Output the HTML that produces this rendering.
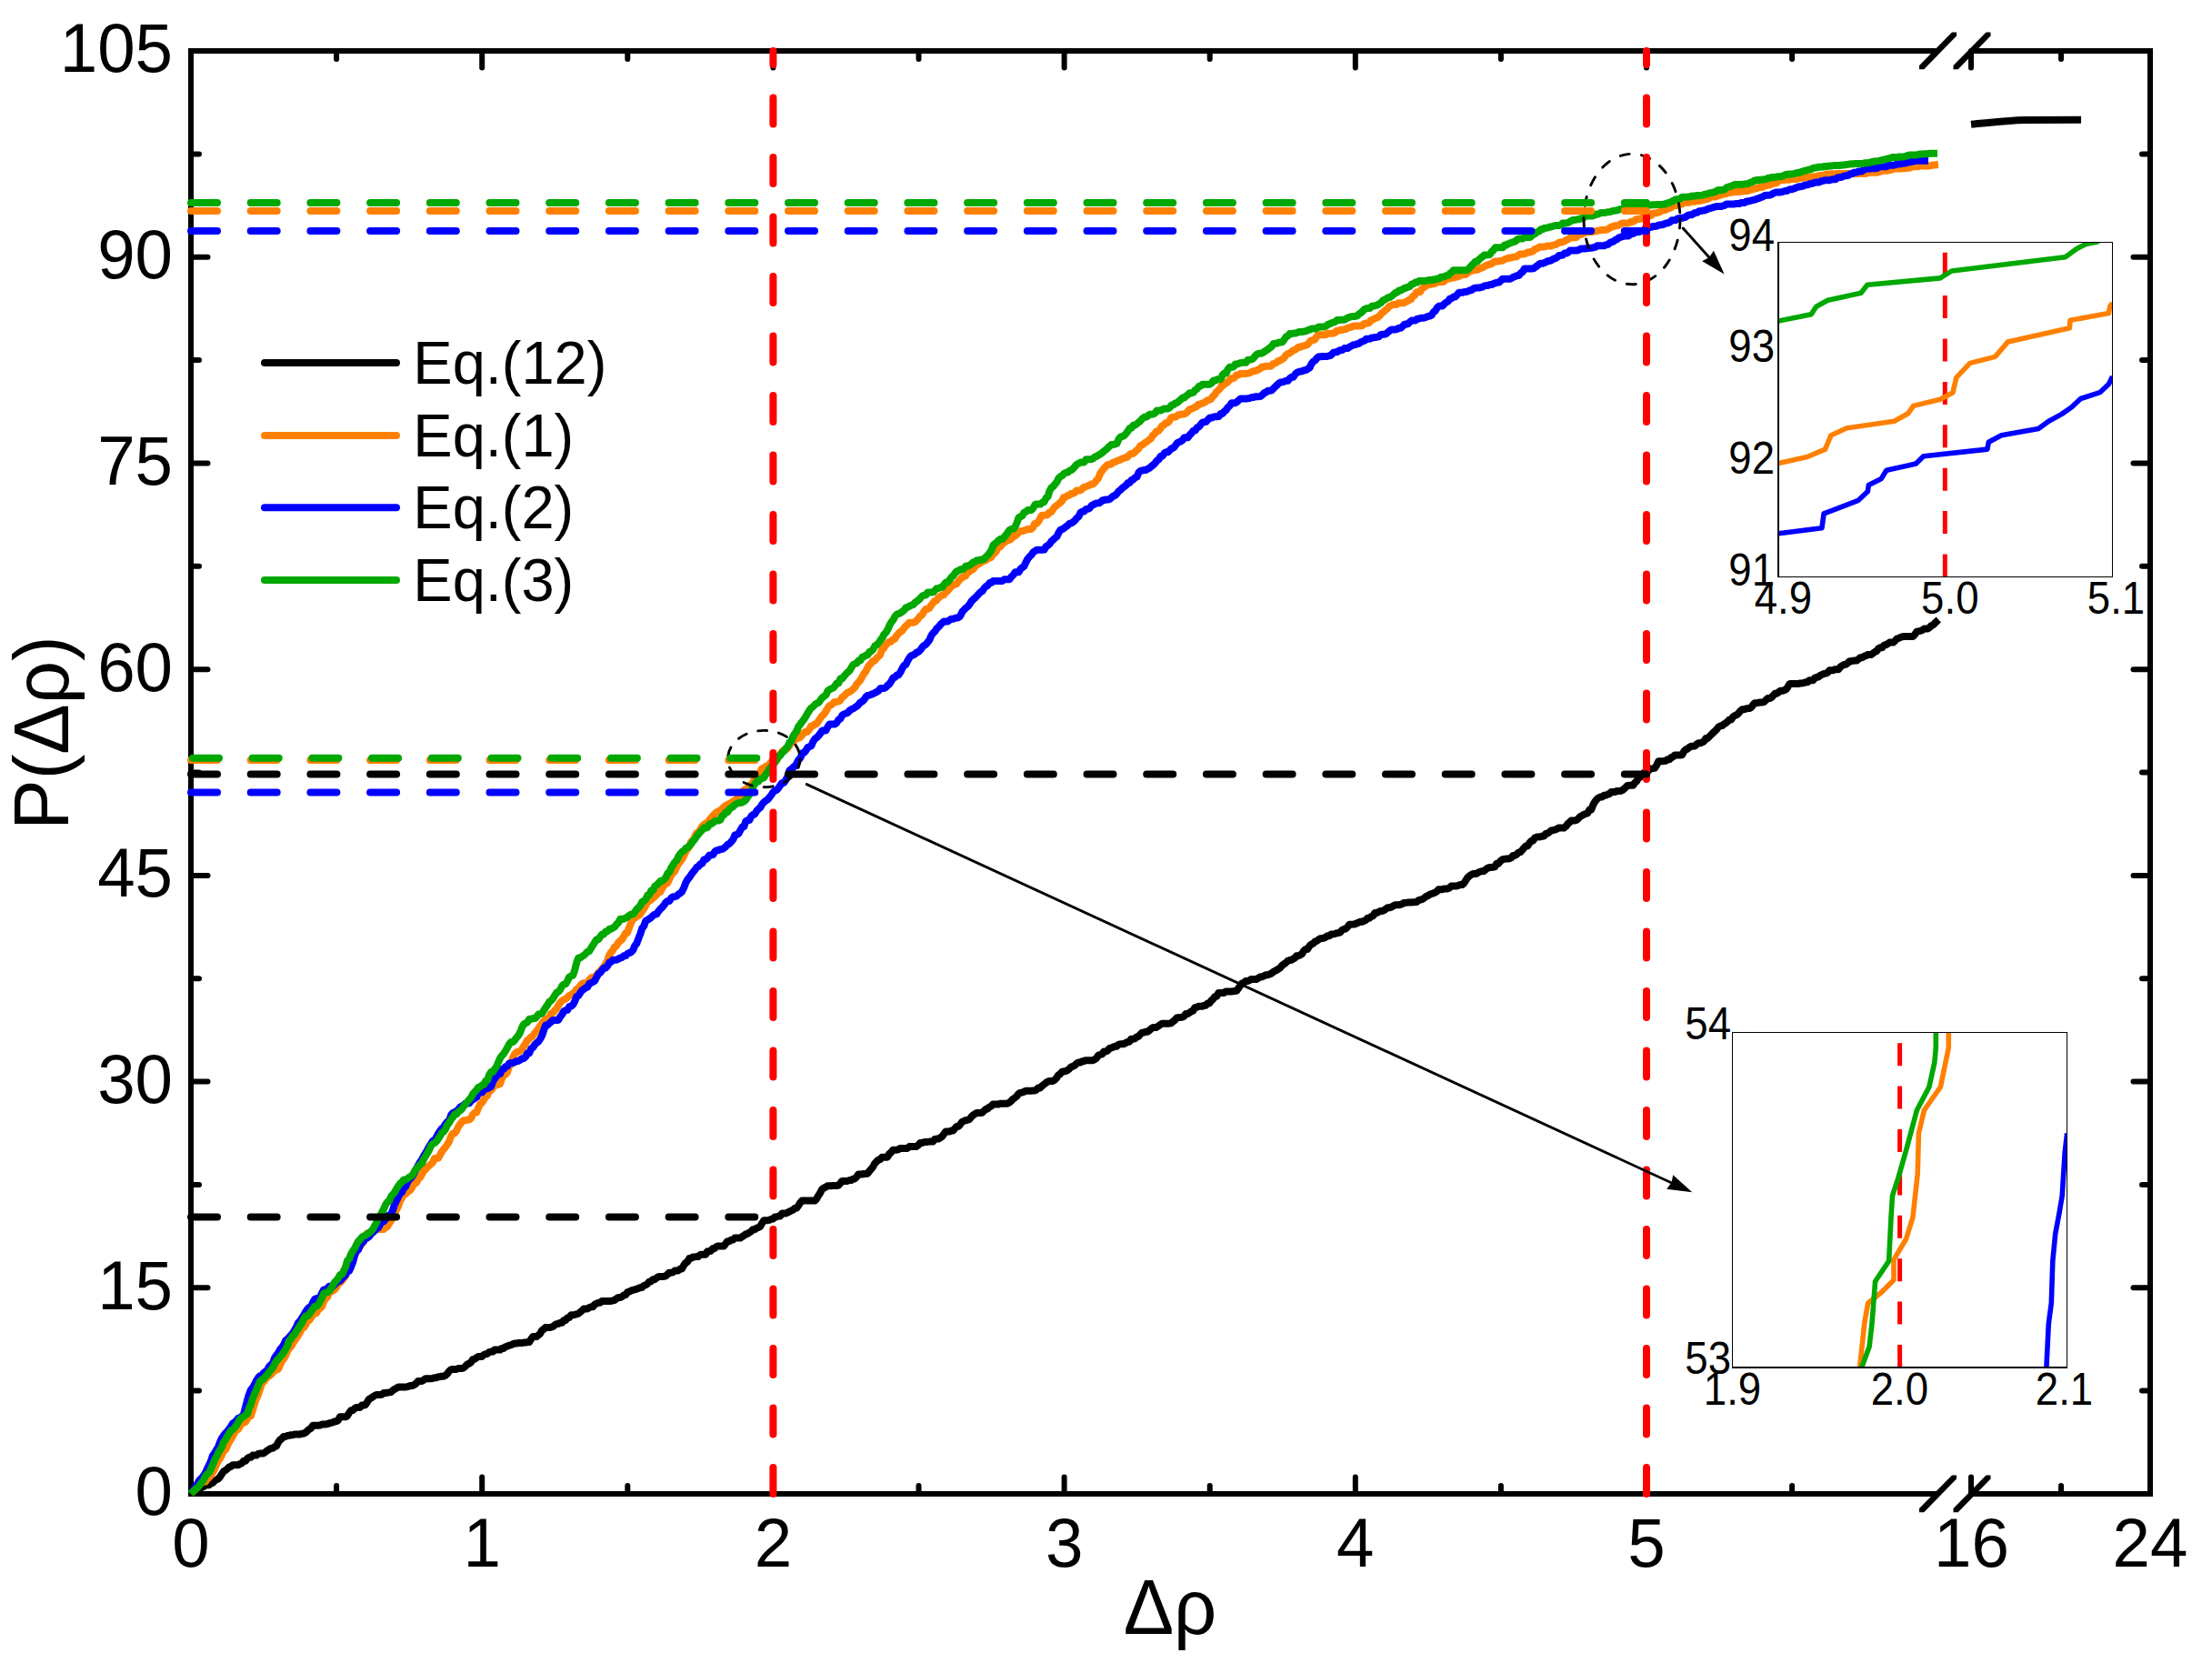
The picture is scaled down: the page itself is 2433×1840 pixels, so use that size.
<!DOCTYPE html>
<html lang="en"><head><meta charset="utf-8"><title>P(Δρ)</title>
<style>html,body{margin:0;padding:0;background:#fff}svg{display:block}</style></head>
<body>
<svg width="2433" height="1840" viewBox="0 0 2433 1840" font-family="'Liberation Sans', Arial, sans-serif">
<rect width="2433" height="1840" fill="#fff"/>
<g fill="none" stroke="#000000" stroke-width="6">
<path stroke-linecap="square" d="M210.0,56.0 L210.0,1643.0"/>
<path stroke-linecap="square" d="M2365.0,56.0 L2365.0,1643.0"/>
<path d="M210.0,56.0 L2132,56.0 M2170,56.0 L2365.0,56.0"/>
<path d="M210.0,1643.0 L2132,1643.0 M2170,1643.0 L2365.0,1643.0"/>
<polygon fill="#000" stroke="none" points="2111.0,72.0 2147.0,35.6 2152.0,35.6 2152.0,39.4 2116.2,76.3 2111.0,76.3"/>
<polygon fill="#000" stroke="none" points="2148.5,72.0 2184.5,35.6 2189.5,35.6 2189.5,39.4 2153.7,76.3 2148.5,76.3"/>
<polygon fill="#000" stroke="none" points="2111.0,1659.0 2147.0,1622.6 2152.0,1622.6 2152.0,1626.4 2116.2,1663.3 2111.0,1663.3"/>
<polygon fill="#000" stroke="none" points="2148.5,1659.0 2184.5,1622.6 2189.5,1622.6 2189.5,1626.4 2153.7,1663.3 2148.5,1663.3"/>
<g stroke-linecap="round">
<path d="M210.0,1643.0 L210.0,1624.5"/>
<path d="M210.0,56.0 L210.0,74.5"/>
<path d="M370.1,1643.0 L370.1,1634.0"/>
<path d="M370.1,56.0 L370.1,65.0"/>
<path d="M530.2,1643.0 L530.2,1624.5"/>
<path d="M530.2,56.0 L530.2,74.5"/>
<path d="M690.3,1643.0 L690.3,1634.0"/>
<path d="M690.3,56.0 L690.3,65.0"/>
<path d="M850.4,1643.0 L850.4,1624.5"/>
<path d="M850.4,56.0 L850.4,74.5"/>
<path d="M1010.5,1643.0 L1010.5,1634.0"/>
<path d="M1010.5,56.0 L1010.5,65.0"/>
<path d="M1170.6,1643.0 L1170.6,1624.5"/>
<path d="M1170.6,56.0 L1170.6,74.5"/>
<path d="M1330.7,1643.0 L1330.7,1634.0"/>
<path d="M1330.7,56.0 L1330.7,65.0"/>
<path d="M1490.8,1643.0 L1490.8,1624.5"/>
<path d="M1490.8,56.0 L1490.8,74.5"/>
<path d="M1650.9,1643.0 L1650.9,1634.0"/>
<path d="M1650.9,56.0 L1650.9,65.0"/>
<path d="M1811.0,1643.0 L1811.0,1624.5"/>
<path d="M1811.0,56.0 L1811.0,74.5"/>
<path d="M1971.1,1643.0 L1971.1,1634.0"/>
<path d="M1971.1,56.0 L1971.1,65.0"/>
<path d="M2168.0,1643.0 L2168.0,1624.5"/>
<path d="M2168.0,56.0 L2168.0,74.5"/>
<path d="M2267.0,1643.0 L2267.0,1634.0"/>
<path d="M2267.0,56.0 L2267.0,65.0"/>
<path d="M2365.0,1643.0 L2365.0,1624.5"/>
<path d="M2365.0,56.0 L2365.0,74.5"/>
<path d="M210.0,1643.0 L228.5,1643.0"/>
<path d="M2365.0,1643.0 L2346.5,1643.0"/>
<path d="M210.0,1529.6 L219.0,1529.6"/>
<path d="M2365.0,1529.6 L2356.0,1529.6"/>
<path d="M210.0,1416.3 L228.5,1416.3"/>
<path d="M2365.0,1416.3 L2346.5,1416.3"/>
<path d="M210.0,1302.9 L219.0,1302.9"/>
<path d="M2365.0,1302.9 L2356.0,1302.9"/>
<path d="M210.0,1189.6 L228.5,1189.6"/>
<path d="M2365.0,1189.6 L2346.5,1189.6"/>
<path d="M210.0,1076.2 L219.0,1076.2"/>
<path d="M2365.0,1076.2 L2356.0,1076.2"/>
<path d="M210.0,962.9 L228.5,962.9"/>
<path d="M2365.0,962.9 L2346.5,962.9"/>
<path d="M210.0,849.5 L219.0,849.5"/>
<path d="M2365.0,849.5 L2356.0,849.5"/>
<path d="M210.0,736.2 L228.5,736.2"/>
<path d="M2365.0,736.2 L2346.5,736.2"/>
<path d="M210.0,622.8 L219.0,622.8"/>
<path d="M2365.0,622.8 L2356.0,622.8"/>
<path d="M210.0,509.5 L228.5,509.5"/>
<path d="M2365.0,509.5 L2346.5,509.5"/>
<path d="M210.0,396.1 L219.0,396.1"/>
<path d="M2365.0,396.1 L2356.0,396.1"/>
<path d="M210.0,282.7 L228.5,282.7"/>
<path d="M2365.0,282.7 L2346.5,282.7"/>
<path d="M210.0,169.4 L219.0,169.4"/>
<path d="M2365.0,169.4 L2356.0,169.4"/>
<path d="M210.0,56.0 L228.5,56.0"/>
<path d="M2365.0,56.0 L2346.5,56.0"/>
</g>
</g>
<g fill="none" stroke-width="8" stroke-linejoin="round" stroke-linecap="butt">
<polyline stroke="#000000" points="210.0,1643.0 212.0,1641.9 214.0,1640.2 216.0,1639.4 218.0,1637.8 220.0,1636.1 222.0,1636.1 224.0,1635.0 226.0,1633.6 228.0,1633.3 230.0,1633.2 232.0,1631.5 234.0,1630.9 236.0,1628.5 238.0,1627.5 240.0,1626.5 242.0,1624.3 244.0,1621.1 246.0,1618.2 248.0,1617.1 250.0,1615.5 252.0,1613.4 254.0,1613.0 256.0,1611.2 258.0,1611.2 260.0,1611.2 262.0,1611.2 264.0,1610.0 266.0,1609.2 268.0,1606.7 270.0,1606.7 272.0,1604.1 274.0,1602.7 276.0,1602.7 278.0,1600.6 280.0,1600.6 282.0,1600.6 284.0,1599.0 286.0,1598.6 288.0,1598.4 290.0,1598.4 292.0,1596.9 294.0,1595.3 296.0,1594.2 298.0,1592.9 300.0,1592.8 302.0,1591.2 304.0,1590.5 306.0,1586.3 308.0,1583.6 310.0,1582.2 312.0,1580.0 314.0,1580.0 316.0,1579.0 318.0,1578.8 320.0,1578.2 322.0,1578.2 324.0,1577.5 326.0,1577.5 328.0,1577.5 330.0,1577.4 332.0,1576.7 334.0,1576.7 336.0,1575.7 338.0,1573.8 340.0,1572.0 342.0,1571.0 344.0,1567.7 346.0,1567.7 348.0,1567.7 350.0,1567.7 352.0,1567.5 354.0,1566.6 356.0,1566.6 358.0,1566.6 360.0,1566.1 362.0,1565.4 364.0,1564.8 366.0,1564.4 368.0,1563.3 370.0,1563.3 372.0,1561.9 374.0,1558.3 376.0,1558.3 378.0,1558.3 380.0,1558.3 382.0,1557.3 384.0,1554.0 386.0,1551.2 388.0,1551.0 390.0,1549.2 392.0,1547.9 394.0,1547.9 396.0,1547.9 398.0,1545.5 400.0,1545.5 402.0,1545.0 404.0,1541.8 406.0,1538.6 408.0,1537.8 410.0,1536.3 412.0,1535.0 414.0,1533.9 416.0,1533.9 418.0,1533.9 420.0,1533.8 422.0,1532.1 424.0,1532.1 426.0,1531.7 428.0,1531.4 430.0,1531.1 432.0,1529.3 434.0,1527.9 436.0,1526.8 438.0,1525.5 440.0,1525.5 442.0,1525.5 444.0,1525.5 446.0,1525.5 448.0,1525.1 450.0,1524.5 452.0,1524.0 454.0,1523.9 456.0,1522.7 458.0,1521.2 460.0,1518.9 462.0,1518.9 464.0,1518.9 466.0,1517.8 468.0,1516.3 470.0,1516.3 472.0,1516.3 474.0,1516.3 476.0,1515.9 478.0,1515.3 480.0,1515.3 482.0,1514.2 484.0,1514.2 486.0,1513.7 488.0,1513.7 490.0,1512.7 492.0,1510.8 494.0,1508.0 496.0,1506.4 498.0,1506.0 500.0,1506.0 502.0,1506.0 504.0,1505.0 506.0,1505.0 508.0,1505.0 510.0,1504.4 512.0,1502.6 514.0,1500.5 516.0,1499.7 518.0,1498.2 520.0,1495.2 522.0,1494.8 524.0,1493.4 526.0,1492.0 528.0,1492.0 530.0,1492.0 532.0,1490.1 534.0,1489.3 536.0,1488.8 538.0,1487.2 540.0,1486.6 542.0,1486.6 544.0,1484.6 546.0,1484.6 548.0,1484.6 550.0,1484.6 552.0,1482.9 554.0,1482.9 556.1,1481.2 558.1,1480.5 560.1,1479.7 562.1,1479.3 564.1,1478.2 566.1,1477.6 568.1,1477.6 570.1,1477.0 572.1,1477.0 574.1,1477.0 576.1,1476.6 578.1,1476.6 580.1,1476.1 582.1,1476.1 584.1,1472.8 586.1,1470.1 588.1,1470.1 590.1,1470.1 592.1,1468.5 594.1,1466.8 596.1,1463.3 598.1,1461.9 600.1,1460.0 602.1,1459.9 604.1,1459.9 606.1,1459.7 608.1,1459.2 610.1,1457.3 612.1,1456.2 614.1,1455.8 616.1,1454.8 618.1,1454.8 620.1,1452.1 622.1,1452.1 624.1,1449.4 626.1,1449.1 628.1,1446.3 630.1,1446.3 632.1,1446.0 634.1,1445.3 636.1,1444.9 638.1,1443.1 640.1,1441.5 642.1,1439.5 644.1,1439.5 646.1,1439.5 648.1,1438.2 650.1,1437.3 652.1,1437.3 654.1,1434.6 656.1,1433.8 658.1,1432.7 660.1,1432.7 662.1,1431.0 664.1,1430.9 666.1,1430.9 668.1,1430.9 670.1,1430.9 672.1,1430.9 674.1,1430.4 676.1,1429.8 678.1,1428.2 680.1,1427.1 682.1,1427.1 684.1,1426.2 686.1,1424.5 688.1,1424.1 690.1,1421.3 692.1,1420.5 694.1,1419.6 696.1,1418.8 698.1,1418.4 700.1,1417.7 702.1,1417.0 704.1,1416.1 706.1,1416.1 708.1,1414.0 710.1,1413.3 712.1,1412.0 714.1,1409.7 716.1,1409.3 718.1,1407.2 720.1,1407.2 722.1,1405.5 724.1,1404.3 726.1,1404.1 728.1,1404.1 730.1,1403.9 732.1,1403.4 734.1,1401.7 736.1,1399.7 738.1,1399.7 740.1,1399.4 742.1,1397.6 744.1,1397.6 746.1,1397.4 748.1,1395.6 750.1,1395.4 752.1,1391.7 754.1,1389.0 756.1,1387.8 758.1,1384.1 760.1,1384.0 762.1,1382.4 764.1,1382.4 766.1,1382.1 768.1,1382.0 770.1,1379.9 772.1,1379.7 774.1,1379.7 776.1,1379.7 778.1,1376.3 780.1,1376.3 782.1,1375.6 784.1,1373.0 786.1,1373.0 788.1,1371.0 790.1,1370.4 792.1,1370.4 794.1,1370.4 796.1,1370.4 798.1,1367.9 800.1,1365.2 802.1,1365.2 804.1,1363.7 806.1,1363.5 808.1,1361.6 810.1,1361.6 812.1,1361.6 814.1,1361.6 816.1,1360.2 818.1,1359.0 820.1,1357.5 822.1,1357.0 824.1,1355.6 826.1,1354.4 828.1,1352.2 830.1,1352.2 832.1,1350.7 834.1,1350.0 836.1,1348.9 838.1,1345.5 840.1,1342.2 842.1,1342.2 844.1,1342.2 846.1,1341.8 848.1,1340.9 850.1,1340.5 852.1,1338.6 854.1,1338.4 856.1,1337.6 858.1,1337.4 860.1,1334.6 862.1,1334.6 864.1,1334.6 866.1,1333.7 868.1,1332.7 870.1,1331.6 872.1,1330.8 874.1,1329.0 876.1,1328.6 878.1,1326.2 880.1,1322.9 882.1,1320.6 884.1,1320.6 886.1,1320.6 888.1,1320.6 890.1,1320.6 892.1,1320.6 894.1,1320.6 896.1,1320.6 898.1,1318.6 900.1,1315.1 902.1,1312.0 904.1,1308.0 906.1,1306.6 908.1,1305.6 910.1,1304.3 912.1,1304.3 914.1,1304.3 916.1,1303.9 918.1,1303.9 920.1,1303.9 922.1,1303.7 924.1,1301.6 926.1,1299.0 928.1,1299.0 930.1,1299.0 932.1,1298.9 934.1,1298.1 936.1,1298.1 938.1,1296.7 940.1,1296.5 942.1,1294.5 944.1,1291.5 946.1,1291.5 948.1,1291.5 950.1,1291.0 952.1,1291.0 954.1,1290.8 956.1,1288.2 958.1,1285.9 960.1,1283.5 962.1,1279.7 964.1,1277.6 966.1,1275.6 968.1,1275.1 970.1,1272.7 972.1,1272.7 974.1,1272.7 976.1,1272.7 978.1,1269.0 980.1,1267.6 982.1,1264.7 984.1,1264.7 986.1,1264.7 988.1,1264.3 990.1,1262.9 992.1,1262.9 994.1,1262.9 996.1,1262.9 998.1,1262.9 1000.1,1261.1 1002.1,1261.1 1004.1,1261.1 1006.1,1261.0 1008.1,1261.0 1010.1,1259.4 1012.1,1257.0 1014.1,1257.0 1016.1,1256.3 1018.1,1256.1 1020.1,1255.9 1022.1,1255.6 1024.1,1255.6 1026.1,1255.6 1028.1,1253.0 1030.1,1252.6 1032.1,1252.6 1034.1,1251.3 1036.1,1250.1 1038.1,1247.4 1040.1,1244.6 1042.1,1244.6 1044.1,1244.6 1046.1,1243.6 1048.1,1243.6 1050.1,1241.3 1052.1,1239.0 1054.1,1238.8 1056.1,1236.9 1058.1,1233.9 1060.1,1233.1 1062.1,1231.9 1064.1,1231.9 1066.1,1231.1 1068.1,1228.7 1070.1,1226.7 1072.1,1225.4 1074.1,1224.1 1076.1,1224.1 1078.1,1224.1 1080.1,1223.8 1082.1,1222.0 1084.1,1220.0 1086.1,1219.5 1088.1,1217.6 1090.1,1216.7 1092.1,1214.6 1094.1,1214.6 1096.1,1214.6 1098.1,1214.6 1100.1,1213.7 1102.1,1213.7 1104.1,1213.7 1106.1,1213.7 1108.1,1213.7 1110.1,1212.7 1112.1,1211.0 1114.1,1208.8 1116.1,1207.5 1118.1,1205.9 1120.1,1203.3 1122.1,1201.9 1124.1,1201.6 1126.1,1200.8 1128.1,1199.8 1130.1,1199.8 1132.1,1199.8 1134.1,1199.8 1136.1,1199.5 1138.1,1199.5 1140.1,1198.4 1142.1,1196.4 1144.1,1196.4 1146.1,1194.4 1148.1,1192.7 1150.1,1191.3 1152.1,1189.8 1154.1,1189.1 1156.1,1189.0 1158.1,1189.0 1160.1,1187.7 1162.1,1185.6 1164.1,1182.4 1166.1,1181.2 1168.1,1178.9 1170.1,1178.2 1172.1,1178.2 1174.1,1177.2 1176.1,1175.6 1178.1,1173.5 1180.1,1172.7 1182.1,1171.8 1184.1,1169.7 1186.1,1168.6 1188.1,1168.6 1190.1,1167.3 1192.1,1167.2 1194.1,1166.2 1196.1,1166.2 1198.1,1166.2 1200.1,1166.2 1202.1,1166.2 1204.1,1165.1 1206.1,1163.7 1208.1,1160.6 1210.1,1160.0 1212.1,1159.4 1214.1,1156.6 1216.1,1156.5 1218.1,1155.8 1220.1,1153.3 1222.1,1152.5 1224.1,1151.8 1226.1,1150.8 1228.1,1150.8 1230.1,1148.8 1232.1,1148.3 1234.1,1148.2 1236.1,1148.2 1238.1,1147.2 1240.1,1145.9 1242.1,1145.8 1244.1,1142.7 1246.2,1142.7 1248.2,1142.4 1250.2,1140.5 1252.2,1139.9 1254.2,1137.6 1256.2,1135.7 1258.2,1135.6 1260.2,1134.7 1262.2,1134.7 1264.2,1133.2 1266.2,1131.4 1268.2,1130.1 1270.2,1130.1 1272.2,1129.9 1274.2,1128.4 1276.2,1127.0 1278.2,1125.7 1280.2,1125.7 1282.2,1125.7 1284.2,1125.7 1286.2,1125.7 1288.2,1125.3 1290.2,1123.5 1292.2,1122.0 1294.2,1119.5 1296.2,1119.1 1298.2,1119.1 1300.2,1118.7 1302.2,1117.9 1304.2,1115.1 1306.2,1115.1 1308.2,1113.9 1310.2,1112.3 1312.2,1111.7 1314.2,1108.2 1316.2,1107.8 1318.2,1106.8 1320.2,1106.8 1322.2,1106.8 1324.2,1105.8 1326.2,1105.8 1328.2,1103.5 1330.2,1103.5 1332.2,1100.6 1334.2,1098.9 1336.2,1096.2 1338.2,1095.8 1340.2,1092.1 1342.2,1092.1 1344.2,1092.0 1346.2,1092.0 1348.2,1090.5 1350.2,1090.5 1352.2,1090.5 1354.2,1090.5 1356.2,1090.3 1358.2,1090.1 1360.2,1089.7 1362.2,1086.9 1364.2,1083.8 1366.2,1081.4 1368.2,1080.9 1370.2,1079.0 1372.2,1079.0 1374.2,1078.4 1376.2,1076.9 1378.2,1076.9 1380.2,1076.9 1382.2,1076.9 1384.2,1075.6 1386.2,1074.3 1388.2,1074.3 1390.2,1073.4 1392.2,1072.3 1394.2,1072.3 1396.2,1071.5 1398.2,1070.7 1400.2,1069.2 1402.2,1067.9 1404.2,1067.0 1406.2,1065.6 1408.2,1064.4 1410.2,1061.8 1412.2,1060.4 1414.2,1059.0 1416.2,1057.0 1418.2,1056.1 1420.2,1056.0 1422.2,1054.7 1424.2,1053.5 1426.2,1051.3 1428.2,1051.2 1430.2,1050.3 1432.2,1048.9 1434.2,1045.5 1436.2,1043.9 1438.2,1043.9 1440.2,1040.6 1442.2,1038.6 1444.2,1037.8 1446.2,1035.8 1448.2,1035.0 1450.2,1033.4 1452.2,1032.2 1454.2,1032.1 1456.2,1031.7 1458.2,1030.7 1460.2,1029.2 1462.2,1029.2 1464.2,1027.4 1466.2,1027.4 1468.2,1027.1 1470.2,1026.3 1472.2,1026.1 1474.2,1025.3 1476.2,1022.8 1478.2,1021.9 1480.2,1021.5 1482.2,1019.5 1484.2,1016.7 1486.2,1016.7 1488.2,1016.6 1490.2,1016.4 1492.2,1015.5 1494.2,1014.6 1496.2,1013.8 1498.2,1013.8 1500.2,1012.8 1502.2,1011.8 1504.2,1009.8 1506.2,1009.7 1508.2,1008.0 1510.2,1007.4 1512.2,1004.1 1514.2,1004.0 1516.2,1003.1 1518.2,1001.9 1520.2,1001.9 1522.2,1001.2 1524.2,999.7 1526.2,998.3 1528.2,998.3 1530.2,997.7 1532.2,996.6 1534.2,995.3 1536.2,995.3 1538.2,995.3 1540.2,994.8 1542.2,994.3 1544.2,992.9 1546.2,992.9 1548.2,992.6 1550.2,992.6 1552.2,992.6 1554.2,992.2 1556.2,992.2 1558.2,992.1 1560.2,990.3 1562.2,989.6 1564.2,989.1 1566.2,987.9 1568.2,986.1 1570.2,985.3 1572.2,984.0 1574.2,983.1 1576.2,982.5 1578.2,981.7 1580.2,980.6 1582.2,978.3 1584.2,978.3 1586.2,978.2 1588.2,977.6 1590.2,977.6 1592.2,977.6 1594.2,976.5 1596.2,974.6 1598.2,974.6 1600.2,974.4 1602.2,974.4 1604.2,973.8 1606.2,973.1 1608.2,973.1 1610.2,971.4 1612.2,968.3 1614.2,965.3 1616.2,963.5 1618.2,962.0 1620.2,961.0 1622.2,961.0 1624.2,960.9 1626.2,959.4 1628.2,958.6 1630.2,958.2 1632.2,958.0 1634.2,956.2 1636.2,954.8 1638.2,954.1 1640.2,954.1 1642.2,953.7 1644.2,953.4 1646.2,949.7 1648.2,949.7 1650.2,947.2 1652.2,945.6 1654.2,944.9 1656.2,944.6 1658.2,944.5 1660.2,944.2 1662.2,943.4 1664.2,941.0 1666.2,941.0 1668.2,939.6 1670.2,937.6 1672.2,937.2 1674.2,935.1 1676.2,932.6 1678.2,930.4 1680.2,930.4 1682.2,927.2 1684.2,925.0 1686.2,924.5 1688.2,921.4 1690.2,920.6 1692.2,920.6 1694.2,920.3 1696.2,919.7 1698.2,919.5 1700.2,916.9 1702.2,916.6 1704.2,915.1 1706.2,913.5 1708.2,913.1 1710.2,912.7 1712.2,911.8 1714.2,910.6 1716.2,910.6 1718.2,910.6 1720.2,910.6 1722.2,909.0 1724.2,906.3 1726.2,904.5 1728.2,902.6 1730.2,902.4 1732.2,902.4 1734.2,901.9 1736.2,900.1 1738.2,898.0 1740.2,897.0 1742.2,895.7 1744.2,895.0 1746.2,894.3 1748.2,890.6 1750.2,890.6 1752.2,885.3 1754.2,881.8 1756.2,879.3 1758.2,877.5 1760.2,876.5 1762.2,876.5 1764.2,874.8 1766.2,874.8 1768.2,873.7 1770.2,873.1 1772.2,871.1 1774.2,871.1 1776.2,871.1 1778.2,869.9 1780.2,869.9 1782.2,869.9 1784.2,869.2 1786.2,867.7 1788.2,865.9 1790.2,863.9 1792.2,863.8 1794.2,863.8 1796.2,863.7 1798.2,860.7 1800.2,859.3 1802.2,855.3 1804.2,854.6 1806.2,852.6 1808.2,850.0 1810.2,849.6 1812.2,848.7 1814.2,846.6 1816.2,845.4 1818.2,845.1 1820.2,844.7 1822.2,841.5 1824.2,837.3 1826.2,837.3 1828.2,837.3 1830.2,837.0 1832.2,836.8 1834.2,835.3 1836.2,835.3 1838.2,833.1 1840.2,832.4 1842.2,830.5 1844.2,830.5 1846.2,830.5 1848.2,830.5 1850.2,830.3 1852.2,826.3 1854.2,824.4 1856.2,823.7 1858.2,821.8 1860.2,820.7 1862.2,820.7 1864.2,820.5 1866.2,818.4 1868.2,817.3 1870.2,817.3 1872.2,816.4 1874.2,815.4 1876.2,812.1 1878.2,812.1 1880.2,809.9 1882.2,808.1 1884.2,806.0 1886.2,804.1 1888.2,802.3 1890.2,799.5 1892.2,798.4 1894.2,798.1 1896.2,796.4 1898.2,795.2 1900.2,793.6 1902.2,791.5 1904.2,791.5 1906.2,788.3 1908.2,787.0 1910.2,786.3 1912.2,784.5 1914.2,782.0 1916.2,780.3 1918.2,780.3 1920.2,779.6 1922.2,779.0 1924.2,779.0 1926.2,778.1 1928.2,775.2 1930.2,773.2 1932.2,773.2 1934.2,772.8 1936.3,772.5 1938.3,772.4 1940.3,772.0 1942.3,770.0 1944.3,768.1 1946.3,768.1 1948.3,767.1 1950.3,765.1 1952.3,762.8 1954.3,762.8 1956.3,761.3 1958.3,759.8 1960.3,759.8 1962.3,759.2 1964.3,758.4 1966.3,755.8 1968.3,752.3 1970.3,752.0 1972.3,752.0 1974.3,752.0 1976.3,752.0 1978.3,752.0 1980.3,751.4 1982.3,751.4 1984.3,751.0 1986.3,750.2 1988.3,750.2 1990.3,748.2 1992.3,748.2 1994.3,748.2 1996.3,745.5 1998.3,744.9 2000.3,744.3 2002.3,742.7 2004.3,741.9 2006.3,740.9 2008.3,740.6 2010.3,739.6 2012.3,737.2 2014.3,737.2 2016.3,737.2 2018.3,736.2 2020.3,736.2 2022.3,736.2 2024.3,733.4 2026.3,732.1 2028.3,730.9 2030.3,730.7 2032.3,729.4 2034.3,727.2 2036.3,727.2 2038.3,726.7 2040.3,726.5 2042.3,726.5 2044.3,724.8 2046.3,723.2 2048.3,723.2 2050.3,721.8 2052.3,721.2 2054.3,720.0 2056.3,720.0 2058.3,720.0 2060.3,718.4 2062.3,716.9 2064.3,716.0 2066.3,713.1 2068.3,712.3 2070.3,712.2 2072.3,709.8 2074.3,709.1 2076.3,708.1 2078.3,706.6 2080.3,706.6 2082.3,706.6 2084.3,705.0 2086.3,702.6 2088.3,702.0 2090.3,701.0 2092.3,700.3 2094.3,699.9 2096.3,699.9 2098.3,699.9 2100.3,699.9 2102.3,699.9 2104.3,699.9 2106.3,697.6 2108.3,694.7 2110.3,694.3 2112.3,693.9 2114.3,693.1 2116.3,691.6 2118.3,691.6 2120.3,691.6 2122.3,690.1 2124.3,688.1 2126.3,687.3 2128.3,685.2 2130.3,683.3 2132.3,681.5"/>
<polyline stroke="#ff8000" points="210.0,1643.0 212.0,1640.8 214.0,1639.2 216.0,1636.1 218.0,1634.5 220.0,1630.9 222.0,1630.9 224.0,1629.9 226.0,1629.6 228.0,1626.5 230.0,1625.0 232.0,1622.6 234.0,1619.3 236.0,1615.8 238.0,1610.6 240.0,1606.9 242.0,1604.2 244.0,1600.2 246.0,1595.7 248.0,1594.4 250.0,1590.3 252.0,1586.0 254.0,1583.0 256.0,1579.3 258.0,1575.9 260.0,1572.7 262.0,1572.2 264.0,1568.3 266.0,1565.9 268.0,1564.3 270.0,1564.0 272.0,1560.5 274.0,1557.2 276.0,1557.2 278.0,1550.5 280.0,1543.6 282.0,1538.0 284.0,1533.8 286.0,1527.9 288.0,1521.5 290.0,1519.9 292.0,1516.6 294.0,1514.6 296.0,1513.5 298.0,1511.7 300.0,1509.9 302.0,1507.2 304.0,1506.8 306.0,1505.7 308.0,1501.4 310.0,1497.1 312.0,1494.5 314.0,1491.4 316.0,1486.5 318.0,1483.0 320.0,1481.3 322.0,1477.8 324.0,1474.3 326.0,1471.7 328.0,1468.6 330.0,1465.6 332.0,1460.4 334.0,1460.3 336.0,1457.4 338.0,1453.5 340.0,1452.2 342.0,1449.5 344.0,1446.5 346.0,1444.8 348.0,1444.1 350.0,1440.7 352.0,1438.8 354.0,1437.2 356.0,1431.7 358.0,1428.1 360.0,1426.6 362.0,1422.1 364.0,1420.2 366.0,1419.8 368.0,1418.3 370.0,1416.0 372.0,1411.0 374.0,1411.0 376.0,1408.7 378.0,1406.1 380.0,1403.2 382.0,1398.0 384.0,1393.7 386.0,1388.3 388.0,1386.5 390.0,1380.3 392.0,1376.4 394.0,1373.2 396.0,1370.9 398.0,1368.1 400.0,1365.0 402.0,1361.3 404.0,1356.3 406.0,1356.2 408.0,1355.4 410.0,1355.2 412.0,1352.6 414.0,1351.9 416.0,1351.9 418.0,1351.9 420.0,1351.9 422.0,1351.9 424.0,1349.9 426.0,1349.2 428.0,1345.8 430.0,1342.8 432.0,1338.6 434.0,1334.8 436.0,1330.5 438.0,1326.8 440.0,1320.9 442.0,1317.5 444.0,1314.0 446.0,1313.2 448.0,1311.5 450.0,1309.9 452.0,1308.2 454.0,1304.0 456.0,1301.9 458.0,1300.6 460.0,1296.6 462.0,1295.0 464.0,1291.9 466.0,1287.6 468.0,1286.3 470.0,1283.7 472.0,1282.3 474.0,1280.1 476.0,1278.5 478.0,1273.9 480.0,1273.9 482.0,1273.8 484.0,1270.2 486.0,1266.6 488.0,1263.9 490.0,1261.6 492.0,1258.6 494.0,1255.5 496.0,1249.9 498.0,1246.7 500.0,1246.5 502.0,1244.0 504.0,1239.4 506.0,1236.5 508.0,1233.8 510.0,1232.3 512.0,1232.3 514.0,1231.6 516.0,1231.5 518.0,1229.7 520.0,1226.1 522.0,1223.7 524.0,1223.6 526.0,1218.8 528.0,1214.4 530.0,1213.0 532.0,1209.8 534.0,1206.5 536.0,1205.0 538.0,1199.8 540.0,1199.3 542.0,1196.7 544.0,1194.3 546.0,1192.9 548.0,1192.9 550.0,1192.1 552.0,1186.5 554.0,1182.6 556.0,1181.8 558.0,1179.2 560.0,1172.9 562.0,1170.5 564.0,1163.6 566.0,1159.1 568.0,1157.3 570.0,1156.7 572.0,1156.1 574.0,1154.3 576.0,1150.8 578.0,1147.8 580.0,1144.2 582.0,1142.9 584.0,1140.7 586.0,1139.5 588.0,1136.3 590.0,1134.4 592.0,1131.6 594.0,1128.5 596.0,1125.7 598.0,1123.4 600.0,1120.9 602.0,1120.4 604.0,1118.6 606.0,1114.9 608.0,1113.9 610.0,1111.4 612.0,1110.0 614.0,1106.0 616.0,1103.1 618.0,1100.7 620.0,1099.6 622.0,1098.7 624.0,1097.2 626.0,1095.2 628.0,1094.3 630.0,1092.6 632.0,1091.2 634.0,1088.2 636.0,1087.0 638.0,1084.2 640.0,1082.1 642.0,1081.2 644.0,1081.2 646.0,1080.6 648.0,1078.0 650.0,1075.6 652.0,1074.9 654.0,1074.3 656.0,1073.0 658.0,1070.0 660.0,1068.1 662.0,1065.7 664.0,1063.7 666.0,1060.1 668.0,1056.7 670.0,1051.0 672.0,1047.3 674.0,1045.4 676.0,1041.4 678.0,1040.4 680.0,1036.8 682.0,1034.8 684.0,1033.5 686.0,1030.1 688.0,1026.4 690.0,1025.8 692.0,1020.2 694.0,1015.3 696.0,1011.3 698.0,1009.8 700.0,1008.0 702.0,1007.2 704.0,1005.7 706.0,1002.6 708.0,1000.0 710.0,996.1 712.0,992.7 714.0,990.6 716.0,989.9 718.0,987.7 720.0,986.2 722.0,984.4 724.0,981.3 726.0,981.3 728.0,977.6 730.0,974.4 732.0,972.1 734.0,971.3 736.0,967.4 738.0,963.1 740.0,960.5 742.0,958.4 744.0,954.3 746.0,950.3 748.0,948.0 750.0,945.0 752.0,941.9 754.0,937.1 756.0,934.3 758.0,931.5 760.0,925.9 762.0,924.3 764.0,920.7 766.0,916.5 768.0,915.6 770.0,912.6 772.0,909.2 774.0,907.1 776.0,905.7 778.0,904.6 780.0,902.4 782.0,899.5 784.0,897.4 786.0,895.4 788.0,893.3 790.0,892.6 792.0,891.0 794.0,890.0 796.0,887.8 798.0,886.0 800.0,885.1 802.0,883.8 804.0,883.8 806.0,881.4 808.0,880.5 810.0,879.1 812.0,876.3 814.0,876.0 816.0,873.8 818.0,869.0 820.0,868.2 822.0,867.2 824.0,863.7 826.0,863.5 828.0,860.7 830.0,856.7 832.0,855.4 834.0,852.6 836.0,849.0 838.0,845.2 840.0,845.0 842.0,842.9 844.0,842.4 846.0,840.9 848.0,838.2 850.0,835.8 852.0,835.8 854.0,835.7 856.0,833.5 858.0,830.2 860.0,826.9 862.0,824.9 864.0,824.9 866.0,823.4 868.0,820.7 870.0,817.3 872.0,816.2 874.0,813.7 876.0,812.5 878.0,811.9 880.0,811.1 882.0,808.9 884.0,806.3 886.0,804.8 888.0,804.8 890.0,802.6 892.0,798.5 894.0,798.5 896.0,796.4 898.0,796.4 900.0,793.3 902.0,790.3 904.0,787.6 906.0,785.9 908.0,783.0 910.0,779.5 912.0,776.2 914.0,775.5 916.0,773.8 918.0,771.9 920.0,771.9 922.0,771.6 924.0,770.5 926.0,767.3 928.0,765.8 930.0,763.7 932.0,761.8 934.0,761.2 936.0,759.9 938.0,758.2 940.0,756.4 942.0,752.9 944.0,750.5 946.0,748.5 948.0,745.0 950.0,741.2 952.0,739.0 954.0,734.9 956.0,731.5 958.0,729.9 960.0,727.1 962.0,726.6 964.0,724.2 966.0,722.2 968.0,720.5 970.0,714.8 972.0,713.0 974.0,709.6 976.0,707.6 978.0,705.9 980.0,705.7 982.0,703.3 984.0,702.9 986.0,699.4 988.0,697.1 990.0,695.1 992.0,694.0 994.0,691.4 996.0,688.7 998.0,687.3 1000.0,684.8 1002.0,684.8 1004.0,684.8 1006.0,684.1 1008.0,682.7 1010.0,680.4 1012.0,677.7 1014.0,676.5 1016.0,673.1 1018.0,670.1 1020.0,670.1 1022.0,669.0 1024.0,665.9 1026.0,663.4 1028.0,660.9 1030.0,660.6 1032.0,657.6 1034.0,655.9 1036.0,654.7 1038.0,654.4 1040.0,651.7 1042.0,650.1 1044.0,647.8 1046.0,645.6 1048.0,643.7 1050.0,642.9 1052.0,642.4 1054.0,639.5 1056.0,637.2 1058.0,635.3 1060.0,634.3 1062.0,633.4 1064.0,629.9 1066.0,629.1 1068.0,626.6 1070.0,626.5 1072.0,623.9 1074.0,621.7 1076.0,620.3 1078.0,619.6 1080.0,617.5 1082.0,617.0 1084.0,616.1 1086.0,614.8 1088.0,613.7 1090.0,613.1 1092.0,610.0 1094.0,608.1 1096.0,606.1 1098.0,601.9 1100.0,601.4 1102.0,598.9 1104.0,597.0 1106.0,595.6 1108.0,594.7 1110.0,593.8 1112.0,592.8 1114.0,590.2 1116.0,589.6 1118.0,588.3 1120.0,585.9 1122.0,584.3 1124.0,584.2 1126.0,583.5 1128.0,583.1 1130.0,581.9 1132.0,581.9 1134.0,581.9 1136.0,580.5 1138.0,576.0 1140.0,576.0 1142.0,573.6 1144.0,570.3 1146.0,566.7 1148.0,566.7 1150.0,566.7 1152.0,566.4 1154.0,563.6 1156.0,563.2 1158.0,560.6 1160.0,557.7 1162.0,556.1 1164.0,554.6 1166.0,552.8 1168.0,551.3 1170.0,546.9 1172.0,546.9 1174.0,545.1 1176.0,544.8 1178.0,543.0 1180.0,542.7 1182.0,541.9 1184.0,539.5 1186.0,539.5 1188.0,539.5 1190.0,538.2 1192.0,535.7 1194.0,535.6 1196.0,534.5 1198.0,533.8 1200.0,532.5 1202.0,532.5 1204.0,531.0 1206.0,528.2 1208.0,526.3 1210.0,520.9 1212.0,518.2 1214.0,515.4 1216.0,513.4 1218.0,511.4 1220.0,510.7 1222.0,510.7 1224.0,508.8 1226.0,508.3 1228.0,507.2 1230.0,506.4 1232.0,505.9 1234.0,504.6 1236.0,504.0 1238.0,503.0 1240.0,502.7 1242.0,500.4 1244.0,498.9 1246.0,498.9 1248.0,497.5 1250.0,495.3 1252.0,494.0 1254.0,490.3 1256.0,489.4 1258.0,488.2 1260.0,486.5 1262.0,485.4 1264.0,483.6 1266.0,482.3 1268.0,478.8 1270.0,477.2 1272.0,474.5 1274.0,474.1 1276.0,471.9 1278.0,468.5 1280.0,467.6 1282.0,465.2 1284.0,465.2 1286.0,463.3 1288.0,459.5 1290.0,458.7 1292.0,458.7 1294.0,458.1 1296.0,456.2 1298.0,456.1 1300.0,455.5 1302.0,455.5 1304.0,454.8 1306.0,453.2 1308.0,450.6 1310.0,449.9 1312.0,449.1 1314.0,447.9 1316.0,447.3 1318.0,444.7 1320.0,444.7 1322.0,443.7 1324.0,443.1 1326.0,441.8 1328.0,440.4 1330.0,439.8 1332.0,439.0 1334.0,436.1 1336.0,434.2 1338.0,430.9 1340.0,429.4 1342.0,427.2 1344.0,423.6 1346.0,423.5 1348.0,421.3 1350.0,420.7 1352.0,418.4 1354.0,416.2 1356.0,416.2 1358.0,415.0 1360.0,412.6 1362.0,412.6 1364.0,411.1 1366.0,411.1 1368.0,411.1 1370.0,411.1 1372.0,410.7 1374.0,410.3 1376.0,409.4 1378.0,408.3 1380.0,408.3 1382.0,407.3 1384.0,406.6 1386.0,405.6 1388.0,403.5 1390.0,403.4 1392.0,402.8 1394.0,402.8 1396.0,402.8 1398.0,402.8 1400.0,400.4 1402.0,399.7 1404.0,398.8 1406.0,397.0 1408.0,396.6 1410.0,395.2 1412.0,394.1 1414.0,391.0 1416.0,389.3 1418.0,388.7 1420.0,387.3 1422.0,385.7 1424.0,384.8 1426.0,383.7 1428.0,381.8 1430.0,381.8 1432.0,380.8 1434.0,380.5 1436.0,379.7 1438.0,379.1 1440.0,376.7 1442.0,374.5 1444.0,374.2 1446.0,373.6 1448.0,370.5 1450.0,368.3 1452.0,368.3 1454.0,368.3 1456.0,368.2 1458.0,368.2 1460.0,366.7 1462.0,366.7 1464.0,366.7 1466.0,366.7 1468.0,366.2 1470.0,363.8 1472.0,363.7 1474.0,362.9 1476.0,362.9 1478.0,362.2 1480.0,362.1 1482.0,360.8 1484.0,360.2 1486.0,359.9 1488.0,358.9 1490.0,358.4 1492.0,358.4 1494.0,358.4 1496.0,358.4 1498.0,358.3 1500.0,356.3 1502.0,355.6 1504.0,355.6 1506.0,354.9 1508.0,352.2 1510.0,351.6 1512.0,350.1 1514.0,349.7 1516.0,348.5 1518.0,346.8 1520.0,344.3 1522.0,342.9 1524.0,340.9 1526.0,339.4 1528.0,337.1 1530.0,336.0 1532.0,335.0 1534.0,335.0 1536.0,335.0 1538.0,333.3 1540.0,333.2 1542.0,333.2 1544.0,333.2 1546.0,332.0 1548.0,331.2 1550.0,329.7 1552.0,329.4 1554.0,325.8 1556.0,324.9 1558.0,321.2 1560.0,321.2 1562.0,321.2 1564.0,317.4 1566.0,316.3 1568.0,314.7 1570.0,313.2 1572.0,313.2 1574.0,312.4 1576.0,312.4 1578.0,312.1 1580.0,310.5 1582.0,310.2 1584.0,310.2 1586.0,310.2 1588.0,309.8 1590.0,307.7 1592.0,306.8 1594.0,306.6 1596.0,305.7 1598.0,305.7 1600.0,305.2 1602.0,304.7 1604.0,303.9 1606.0,303.5 1608.0,301.9 1610.0,301.9 1612.0,301.9 1614.0,300.5 1616.0,298.6 1618.0,298.3 1620.0,296.9 1622.0,296.9 1624.0,296.9 1626.0,296.4 1628.0,294.9 1630.0,294.8 1632.0,293.4 1634.0,292.3 1636.0,291.6 1638.0,290.7 1640.0,290.5 1642.0,289.0 1644.0,287.5 1646.0,287.5 1648.0,287.4 1650.0,286.9 1652.0,286.8 1654.0,285.9 1656.0,284.7 1658.0,284.4 1660.0,283.5 1662.0,283.5 1664.0,282.9 1666.0,282.4 1668.0,282.4 1670.0,280.7 1672.0,279.4 1674.0,279.4 1676.0,279.4 1678.0,278.9 1680.0,277.6 1682.0,277.6 1684.0,276.9 1686.0,276.5 1688.0,274.2 1690.0,273.6 1692.0,272.4 1694.0,271.5 1696.0,271.5 1698.0,271.5 1700.0,271.1 1702.0,270.5 1704.0,270.5 1706.0,270.5 1708.0,269.6 1710.0,269.3 1712.0,268.6 1714.0,267.1 1716.0,266.5 1718.0,266.2 1720.0,265.9 1722.0,264.3 1724.0,263.3 1726.0,262.5 1728.0,261.2 1730.0,261.2 1732.0,261.2 1734.0,261.1 1736.0,258.6 1738.0,257.7 1740.0,257.7 1742.0,256.6 1744.0,255.3 1746.0,255.3 1748.0,255.3 1750.0,255.3 1752.0,254.6 1754.0,254.5 1756.0,254.2 1758.0,253.7 1760.0,253.3 1762.0,253.1 1764.0,252.9 1766.0,252.8 1768.0,252.3 1770.0,251.2 1772.0,249.5 1774.0,249.5 1776.0,248.3 1778.0,248.3 1780.0,248.0 1782.0,246.6 1784.0,245.6 1786.0,245.6 1788.0,245.6 1790.0,245.6 1792.0,245.0 1794.0,243.8 1796.0,243.7 1798.0,242.5 1800.0,241.0 1802.0,241.0 1804.0,241.0 1806.0,239.7 1808.0,239.0 1810.0,239.0 1812.0,238.9 1814.0,237.1 1816.0,237.1 1818.0,234.5 1820.0,234.5 1822.0,234.3 1824.0,233.6 1826.0,233.0 1828.0,231.3 1830.0,231.0 1832.0,230.9 1834.0,229.6 1836.0,229.2 1838.0,228.5 1840.0,226.5 1842.0,226.1 1844.0,226.1 1846.0,224.8 1848.0,224.6 1850.0,224.4 1852.0,223.0 1854.0,222.8 1856.0,222.8 1858.0,222.8 1860.0,221.8 1862.0,221.8 1864.0,221.7 1866.0,221.1 1868.0,221.1 1870.0,220.8 1872.0,220.2 1874.0,219.9 1876.0,219.3 1878.0,219.0 1880.0,218.0 1882.0,216.5 1884.0,216.5 1886.0,216.5 1888.0,216.1 1890.0,215.3 1892.0,214.7 1894.0,214.2 1896.0,213.2 1898.0,213.2 1900.0,212.6 1902.0,211.8 1904.0,211.8 1906.0,211.4 1908.0,211.1 1910.0,211.1 1912.0,211.1 1914.0,210.6 1916.0,210.4 1918.0,210.2 1920.0,209.9 1922.0,209.9 1924.0,209.2 1926.0,208.6 1928.0,208.3 1930.0,207.3 1932.0,207.3 1934.0,206.3 1936.0,206.1 1938.0,206.0 1940.0,204.8 1942.0,204.2 1944.0,203.6 1946.0,203.6 1948.0,203.0 1950.0,201.4 1952.0,201.4 1954.0,201.3 1956.0,199.6 1958.0,198.0 1960.0,198.0 1962.0,198.0 1964.0,197.7 1966.0,197.7 1968.0,197.7 1970.0,197.0 1972.0,197.0 1974.0,197.0 1976.0,196.9 1978.0,196.3 1980.0,196.2 1982.0,195.6 1984.0,195.4 1986.0,195.1 1988.0,194.7 1990.0,194.7 1992.0,194.7 1994.0,194.6 1996.0,194.3 1998.0,194.3 2000.0,193.3 2002.0,193.1 2004.0,192.9 2006.0,192.9 2008.0,191.8 2010.0,191.6 2012.0,191.4 2014.0,191.3 2016.0,191.3 2018.0,191.3 2020.0,190.9 2022.0,190.9 2024.0,190.9 2026.0,190.9 2028.0,190.9 2030.0,190.9 2032.0,190.9 2034.0,190.9 2036.0,190.9 2038.0,190.9 2040.0,190.9 2042.0,190.9 2044.0,190.9 2046.0,190.9 2048.0,190.9 2050.0,190.9 2052.0,190.9 2054.0,190.2 2056.0,189.8 2058.0,189.8 2060.0,189.8 2062.0,189.8 2064.0,189.8 2066.0,189.3 2068.0,188.7 2070.0,187.9 2072.0,187.8 2074.0,187.8 2076.0,187.7 2078.0,186.9 2080.0,186.9 2082.0,186.1 2084.0,185.6 2086.0,185.6 2088.0,185.6 2090.0,185.6 2092.0,185.6 2094.0,185.2 2096.0,185.0 2098.0,184.7 2100.0,184.7 2102.0,184.1 2104.0,183.3 2106.0,183.2 2108.0,183.2 2110.0,183.2 2112.0,182.4 2114.0,182.4 2116.0,182.4 2118.0,182.4 2120.0,182.4 2122.0,182.4 2124.0,182.0 2126.0,181.5 2128.0,181.5 2130.0,181.2 2132.0,181.0"/>
<polyline stroke="#0000ff" points="210.0,1643.0 212.0,1640.1 214.0,1637.0 216.0,1633.8 218.0,1630.1 220.0,1627.2 222.0,1625.6 224.0,1622.8 226.0,1619.7 228.0,1615.3 230.0,1611.2 232.0,1606.9 234.0,1600.7 236.0,1598.3 238.0,1594.7 240.0,1591.5 242.0,1586.1 244.0,1581.7 246.0,1578.8 248.0,1576.3 250.0,1574.3 252.0,1571.5 254.0,1569.1 256.0,1565.6 258.0,1564.2 260.0,1562.6 262.0,1559.7 264.0,1559.7 266.0,1557.7 268.0,1555.8 270.0,1547.7 272.0,1540.2 274.0,1533.5 276.0,1528.6 278.0,1526.1 280.0,1522.6 282.0,1518.4 284.0,1515.3 286.0,1513.2 288.0,1513.1 290.0,1509.9 292.0,1508.4 294.0,1506.9 296.0,1503.0 298.0,1500.9 300.0,1499.4 302.0,1493.5 304.0,1490.6 306.1,1487.8 308.1,1484.0 310.1,1481.9 312.1,1478.8 314.1,1474.3 316.1,1472.9 318.1,1470.7 320.1,1468.4 322.1,1466.3 324.1,1462.7 326.1,1459.1 328.1,1454.5 330.1,1452.9 332.1,1449.5 334.1,1446.5 336.1,1442.8 338.1,1440.0 340.1,1437.8 342.1,1437.4 344.1,1432.4 346.1,1429.1 348.1,1428.0 350.1,1428.0 352.1,1426.5 354.1,1422.2 356.1,1418.4 358.1,1418.4 360.1,1417.0 362.1,1414.8 364.1,1414.8 366.1,1414.8 368.1,1412.8 370.1,1410.9 372.1,1409.1 374.1,1408.6 376.1,1406.4 378.1,1404.2 380.1,1402.2 382.1,1397.9 384.1,1397.8 386.1,1393.4 388.1,1388.3 390.1,1380.5 392.1,1376.1 394.1,1374.5 396.1,1369.3 398.1,1366.7 400.1,1365.2 402.1,1361.5 404.1,1361.5 406.1,1359.9 408.1,1357.2 410.1,1355.3 412.1,1353.7 414.1,1351.3 416.1,1350.2 418.1,1346.6 420.1,1344.0 422.1,1343.2 424.1,1340.7 426.1,1337.3 428.1,1336.6 430.1,1335.8 432.1,1330.6 434.1,1324.4 436.1,1320.4 438.1,1316.2 440.1,1312.1 442.1,1311.1 444.1,1306.5 446.1,1305.3 448.1,1300.5 450.1,1297.2 452.1,1295.6 454.1,1292.9 456.1,1289.3 458.1,1285.1 460.1,1281.5 462.1,1278.1 464.1,1275.2 466.1,1271.4 468.1,1268.1 470.1,1264.9 472.1,1260.9 474.1,1257.9 476.1,1254.6 478.1,1253.8 480.1,1250.5 482.1,1246.7 484.1,1243.7 486.1,1241.1 488.1,1239.5 490.1,1236.0 492.1,1233.7 494.1,1232.8 496.1,1226.4 498.2,1223.9 500.2,1223.1 502.2,1221.9 504.2,1220.2 506.2,1217.6 508.2,1216.5 510.2,1215.4 512.2,1213.4 514.2,1213.4 516.2,1213.2 518.2,1210.7 520.2,1209.3 522.2,1207.9 524.2,1206.8 526.2,1202.3 528.2,1201.4 530.2,1201.4 532.2,1198.8 534.2,1197.6 536.2,1197.2 538.2,1196.1 540.2,1194.9 542.2,1189.2 544.2,1186.3 546.2,1183.4 548.2,1181.6 550.2,1181.0 552.2,1175.7 554.2,1175.7 556.2,1172.9 558.2,1172.7 560.2,1169.4 562.2,1169.1 564.2,1169.1 566.2,1168.2 568.2,1167.2 570.2,1166.9 572.2,1165.6 574.2,1164.2 576.2,1164.1 578.2,1162.0 580.2,1158.3 582.2,1158.3 584.2,1153.3 586.2,1152.0 588.2,1149.0 590.2,1147.0 592.2,1145.6 594.2,1142.6 596.2,1138.9 598.2,1132.7 600.2,1127.5 602.2,1127.5 604.2,1125.5 606.2,1123.9 608.2,1121.9 610.2,1121.9 612.2,1121.9 614.2,1121.9 616.2,1118.3 618.2,1115.8 620.2,1112.1 622.2,1111.1 624.2,1110.8 626.2,1107.0 628.2,1106.7 630.2,1105.0 632.2,1101.4 634.2,1095.9 636.2,1095.1 638.2,1092.0 640.2,1089.2 642.2,1087.9 644.2,1086.3 646.2,1085.7 648.2,1081.7 650.2,1081.0 652.2,1080.0 654.2,1078.6 656.2,1074.7 658.2,1071.0 660.2,1069.8 662.2,1067.1 664.2,1064.6 666.2,1064.5 668.2,1062.3 670.2,1058.5 672.2,1058.0 674.2,1055.7 676.2,1055.7 678.2,1055.7 680.2,1054.7 682.2,1053.5 684.2,1053.1 686.2,1051.3 688.3,1051.1 690.3,1048.7 692.3,1048.0 694.3,1047.1 696.3,1044.9 698.3,1040.0 700.3,1037.7 702.3,1032.1 704.3,1027.2 706.3,1020.8 708.3,1018.4 710.3,1012.6 712.3,1011.8 714.3,1010.4 716.3,1009.1 718.3,1007.0 720.3,1005.6 722.3,1005.3 724.3,1002.1 726.3,999.8 728.3,998.0 730.3,995.6 732.3,992.5 734.3,990.9 736.3,990.9 738.3,987.6 740.3,986.2 742.3,986.2 744.3,985.5 746.3,983.4 748.3,982.3 750.3,980.3 752.3,976.2 754.3,970.9 756.3,967.2 758.3,965.0 760.3,961.8 762.3,959.1 764.3,956.9 766.3,953.9 768.3,952.9 770.3,950.3 772.3,949.7 774.3,945.4 776.3,945.1 778.3,943.4 780.3,940.5 782.3,940.5 784.3,939.9 786.3,936.4 788.3,935.3 790.3,935.3 792.3,933.9 794.3,933.9 796.3,932.8 798.3,931.1 800.3,928.9 802.3,927.9 804.3,925.7 806.3,923.4 808.3,918.4 810.3,918.0 812.3,917.0 814.3,913.2 816.3,909.6 818.3,909.1 820.3,903.4 822.3,902.0 824.3,902.0 826.3,897.8 828.3,896.1 830.3,895.4 832.3,891.8 834.3,889.7 836.3,888.1 838.3,884.4 840.3,882.3 842.3,880.7 844.3,879.4 846.3,876.9 848.3,874.5 850.3,871.3 852.3,869.4 854.3,868.8 856.3,866.7 858.3,863.6 860.3,860.9 862.3,860.9 864.3,857.8 866.3,854.0 868.3,847.4 870.3,846.0 872.3,843.9 874.3,842.7 876.3,839.5 878.3,835.9 880.4,833.4 882.4,828.4 884.4,827.7 886.4,825.5 888.4,822.0 890.4,821.2 892.4,820.3 894.4,815.4 896.4,812.5 898.4,811.1 900.4,809.2 902.4,806.5 904.4,803.5 906.4,803.5 908.4,803.4 910.4,799.5 912.4,796.5 914.4,796.5 916.4,796.4 918.4,796.4 920.4,794.8 922.4,791.5 924.4,790.4 926.4,786.6 928.4,785.4 930.4,784.6 932.4,784.0 934.4,781.6 936.4,780.2 938.4,779.3 940.4,778.0 942.4,776.8 944.4,774.8 946.4,772.4 948.4,771.5 950.4,769.4 952.4,766.5 954.4,765.0 956.4,764.6 958.4,763.8 960.4,763.0 962.4,761.9 964.4,761.0 966.4,759.6 968.4,757.0 970.4,757.0 972.4,757.0 974.4,756.0 976.4,753.7 978.4,752.2 980.4,749.0 982.4,745.4 984.4,744.8 986.4,742.5 988.4,742.2 990.4,739.3 992.4,735.1 994.4,731.8 996.4,730.9 998.4,726.5 1000.4,723.2 1002.4,721.1 1004.4,720.5 1006.4,719.3 1008.4,717.3 1010.4,716.8 1012.4,714.7 1014.4,711.9 1016.4,709.9 1018.4,708.7 1020.4,706.2 1022.4,703.7 1024.4,698.9 1026.4,696.2 1028.4,694.4 1030.4,691.1 1032.4,689.5 1034.4,687.0 1036.4,685.1 1038.4,683.4 1040.4,683.4 1042.4,683.4 1044.4,682.0 1046.4,680.7 1048.4,680.7 1050.4,679.9 1052.4,679.5 1054.4,679.0 1056.4,677.2 1058.4,672.8 1060.4,670.7 1062.4,668.6 1064.4,667.1 1066.4,664.7 1068.4,661.4 1070.5,659.3 1072.5,657.5 1074.5,655.4 1076.5,653.3 1078.5,651.1 1080.5,650.2 1082.5,647.0 1084.5,645.0 1086.5,643.8 1088.5,641.0 1090.5,640.9 1092.5,638.9 1094.5,638.9 1096.5,638.9 1098.5,638.9 1100.5,638.9 1102.5,638.9 1104.5,637.3 1106.5,637.3 1108.5,637.3 1110.5,637.2 1112.5,634.1 1114.5,632.5 1116.5,629.3 1118.5,629.3 1120.5,629.3 1122.5,625.7 1124.5,624.1 1126.5,622.7 1128.5,618.2 1130.5,614.5 1132.5,612.2 1134.5,610.3 1136.5,607.3 1138.5,606.0 1140.5,604.8 1142.5,604.8 1144.5,604.7 1146.5,604.7 1148.5,604.6 1150.5,601.2 1152.5,599.9 1154.5,598.2 1156.5,595.3 1158.5,593.6 1160.5,591.7 1162.5,590.0 1164.5,585.7 1166.5,582.7 1168.5,582.0 1170.5,580.8 1172.5,579.2 1174.5,577.9 1176.5,575.7 1178.5,575.3 1180.5,574.0 1182.5,572.1 1184.5,569.7 1186.5,568.1 1188.5,563.8 1190.5,562.6 1192.5,562.5 1194.5,560.0 1196.5,559.8 1198.5,559.0 1200.5,556.2 1202.5,555.2 1204.5,554.0 1206.5,553.4 1208.5,553.3 1210.5,552.3 1212.5,550.5 1214.5,550.0 1216.5,549.5 1218.5,549.5 1220.5,549.1 1222.5,547.3 1224.5,545.3 1226.5,544.9 1228.5,542.9 1230.5,540.2 1232.5,538.8 1234.5,536.7 1236.5,535.2 1238.5,533.9 1240.5,531.1 1242.5,531.1 1244.5,528.1 1246.5,527.4 1248.5,525.2 1250.5,524.5 1252.5,519.5 1254.5,517.9 1256.5,517.5 1258.5,516.9 1260.5,516.9 1262.6,515.5 1264.6,514.6 1266.6,512.8 1268.6,511.3 1270.6,509.2 1272.6,506.5 1274.6,505.1 1276.6,501.8 1278.6,501.7 1280.6,498.5 1282.6,497.3 1284.6,497.3 1286.6,495.2 1288.6,493.1 1290.6,492.6 1292.6,490.3 1294.6,487.5 1296.6,486.3 1298.6,485.4 1300.6,484.3 1302.6,481.3 1304.6,481.3 1306.6,481.2 1308.6,478.3 1310.6,476.3 1312.6,473.7 1314.6,473.5 1316.6,470.4 1318.6,469.4 1320.6,466.9 1322.6,464.6 1324.6,464.1 1326.6,463.8 1328.6,461.5 1330.6,459.6 1332.6,459.6 1334.6,458.7 1336.6,458.2 1338.6,458.2 1340.6,458.1 1342.6,454.9 1344.6,454.9 1346.6,452.5 1348.6,451.0 1350.6,448.0 1352.6,446.3 1354.6,443.2 1356.6,443.2 1358.6,443.2 1360.6,442.1 1362.6,440.0 1364.6,438.4 1366.6,438.4 1368.6,438.4 1370.6,438.4 1372.6,438.2 1374.6,438.1 1376.6,437.0 1378.6,437.0 1380.6,436.2 1382.6,436.2 1384.6,436.2 1386.6,435.8 1388.6,434.2 1390.6,432.1 1392.6,431.4 1394.6,429.8 1396.6,429.8 1398.6,429.4 1400.6,427.4 1402.6,425.4 1404.6,423.5 1406.6,421.6 1408.6,420.5 1410.6,420.1 1412.6,419.6 1414.6,418.8 1416.6,418.8 1418.6,416.2 1420.6,414.7 1422.6,414.7 1424.6,411.5 1426.6,409.8 1428.6,409.0 1430.6,408.4 1432.6,408.2 1434.6,407.2 1436.6,407.0 1438.6,405.7 1440.6,404.4 1442.6,399.9 1444.6,397.6 1446.6,396.4 1448.6,393.8 1450.6,392.2 1452.7,392.2 1454.7,392.0 1456.7,392.0 1458.7,392.0 1460.7,391.7 1462.7,391.2 1464.7,390.0 1466.7,387.7 1468.7,387.3 1470.7,387.2 1472.7,385.8 1474.7,385.0 1476.7,384.9 1478.7,383.1 1480.7,382.9 1482.7,382.9 1484.7,381.3 1486.7,380.4 1488.7,379.2 1490.7,379.2 1492.7,378.2 1494.7,377.9 1496.7,376.2 1498.7,375.5 1500.7,374.8 1502.7,372.8 1504.7,372.8 1506.7,372.8 1508.7,371.4 1510.7,371.4 1512.7,370.9 1514.7,370.7 1516.7,370.2 1518.7,368.1 1520.7,367.7 1522.7,367.7 1524.7,367.1 1526.7,365.3 1528.7,363.7 1530.7,362.4 1532.7,362.4 1534.7,362.4 1536.7,362.0 1538.7,360.8 1540.7,360.8 1542.7,358.9 1544.7,357.0 1546.7,356.5 1548.7,356.1 1550.7,354.1 1552.7,352.5 1554.7,352.5 1556.7,352.5 1558.7,350.8 1560.7,350.5 1562.7,349.8 1564.7,349.8 1566.7,349.5 1568.7,348.8 1570.7,347.9 1572.7,347.5 1574.7,346.6 1576.7,343.3 1578.7,341.9 1580.7,338.5 1582.7,336.7 1584.7,336.4 1586.7,336.4 1588.7,334.1 1590.7,332.5 1592.7,331.5 1594.7,328.6 1596.7,328.1 1598.7,326.6 1600.7,326.4 1602.7,324.2 1604.7,321.7 1606.7,321.7 1608.7,321.7 1610.7,320.9 1612.7,320.9 1614.7,320.3 1616.7,319.2 1618.7,319.2 1620.7,317.3 1622.7,316.7 1624.7,316.6 1626.7,316.6 1628.7,316.0 1630.7,315.6 1632.7,314.4 1634.7,314.1 1636.7,314.1 1638.7,313.0 1640.7,313.0 1642.7,312.1 1644.8,311.3 1646.8,310.7 1648.8,310.6 1650.8,308.7 1652.8,306.7 1654.8,306.7 1656.8,306.7 1658.8,306.7 1660.8,306.7 1662.8,305.9 1664.8,304.6 1666.8,304.0 1668.8,302.9 1670.8,302.9 1672.8,300.2 1674.8,299.0 1676.8,295.4 1678.8,295.4 1680.8,295.4 1682.8,295.4 1684.8,295.4 1686.8,295.3 1688.8,293.7 1690.8,292.2 1692.8,290.7 1694.8,289.7 1696.8,289.7 1698.8,289.0 1700.8,288.1 1702.8,287.0 1704.8,286.9 1706.8,286.0 1708.8,284.7 1710.8,284.1 1712.8,282.8 1714.8,280.9 1716.8,280.9 1718.8,280.5 1720.8,278.6 1722.8,278.6 1724.8,277.6 1726.8,275.5 1728.8,275.5 1730.8,275.5 1732.8,275.5 1734.8,275.4 1736.8,274.7 1738.8,273.5 1740.8,273.5 1742.8,273.5 1744.8,273.2 1746.8,273.1 1748.8,272.8 1750.8,272.8 1752.8,272.1 1754.8,271.8 1756.8,270.2 1758.8,270.2 1760.8,270.2 1762.8,270.2 1764.8,270.2 1766.8,269.1 1768.8,268.8 1770.8,267.0 1772.8,266.1 1774.8,265.6 1776.8,263.8 1778.8,263.1 1780.8,261.3 1782.8,260.8 1784.8,260.0 1786.8,259.5 1788.8,259.5 1790.8,259.5 1792.8,258.3 1794.8,257.0 1796.8,256.8 1798.8,255.3 1800.8,255.3 1802.8,255.1 1804.8,254.1 1806.8,253.9 1808.8,252.1 1810.8,252.1 1812.8,250.8 1814.8,250.1 1816.8,249.5 1818.8,249.0 1820.8,249.0 1822.8,248.4 1824.8,247.4 1826.8,247.2 1828.8,247.2 1830.8,246.2 1832.8,245.4 1834.9,245.2 1836.9,244.2 1838.9,242.3 1840.9,242.3 1842.9,242.3 1844.9,240.6 1846.9,240.0 1848.9,239.7 1850.9,239.7 1852.9,239.2 1854.9,238.0 1856.9,236.6 1858.9,236.3 1860.9,236.3 1862.9,234.9 1864.9,233.9 1866.9,233.7 1868.9,232.2 1870.9,232.0 1872.9,231.6 1874.9,231.5 1876.9,230.5 1878.9,229.6 1880.9,229.1 1882.9,228.6 1884.9,227.8 1886.9,227.3 1888.9,227.1 1890.9,227.1 1892.9,227.1 1894.9,226.5 1896.9,225.9 1898.9,224.5 1900.9,224.5 1902.9,224.5 1904.9,224.5 1906.9,224.5 1908.9,224.1 1910.9,224.1 1912.9,224.1 1914.9,223.1 1916.9,223.0 1918.9,223.0 1920.9,221.4 1922.9,221.4 1924.9,220.8 1926.9,220.3 1928.9,219.8 1930.9,219.6 1932.9,218.4 1934.9,218.0 1936.9,216.9 1938.9,216.5 1940.9,215.2 1942.9,214.7 1944.9,214.7 1946.9,214.6 1948.9,213.7 1950.9,212.4 1952.9,211.6 1954.9,211.6 1956.9,211.6 1958.9,211.3 1960.9,210.9 1962.9,210.1 1964.9,210.1 1966.9,209.1 1968.9,208.2 1970.9,208.2 1972.9,207.5 1974.9,206.7 1976.9,205.9 1978.9,205.3 1980.9,205.2 1982.9,204.8 1984.9,203.6 1986.9,203.4 1988.9,203.0 1990.9,201.9 1992.9,201.9 1994.9,201.2 1996.9,200.5 1998.9,200.5 2000.9,200.4 2002.9,199.3 2004.9,199.1 2006.9,198.2 2008.9,198.2 2010.9,198.2 2012.9,198.2 2014.9,197.3 2016.9,197.3 2018.9,197.3 2020.9,195.6 2022.9,195.0 2024.9,194.9 2027.0,194.2 2029.0,193.3 2031.0,193.3 2033.0,192.9 2035.0,191.2 2037.0,191.2 2039.0,189.7 2041.0,189.7 2043.0,189.0 2045.0,188.5 2047.0,188.5 2049.0,187.7 2051.0,186.4 2053.0,185.4 2055.0,185.4 2057.0,185.4 2059.0,185.3 2061.0,185.3 2063.0,185.1 2065.0,184.9 2067.0,183.4 2069.0,183.3 2071.0,183.3 2073.0,183.3 2075.0,183.2 2077.0,181.8 2079.0,181.8 2081.0,181.7 2083.0,181.7 2085.0,181.2 2087.0,180.6 2089.0,180.3 2091.0,180.2 2093.0,179.6 2095.0,179.6 2097.0,178.9 2099.0,178.6 2101.0,178.1 2103.0,177.8 2105.0,177.3 2107.0,176.8 2109.0,176.8 2111.0,176.8 2113.0,176.8 2115.0,176.8 2117.0,176.8 2119.0,176.8 2121.0,176.8"/>
<polyline stroke="#00a800" points="210.0,1643.0 212.0,1640.6 214.0,1638.8 216.0,1637.3 218.0,1635.5 220.0,1632.7 222.0,1630.4 224.0,1627.3 226.0,1623.4 228.0,1621.1 230.0,1619.5 232.0,1615.6 234.0,1611.0 236.0,1605.9 238.0,1602.3 240.0,1598.0 242.0,1594.5 244.0,1591.6 246.0,1585.9 248.0,1583.7 250.0,1579.6 252.0,1576.6 254.0,1573.2 256.0,1572.4 258.0,1570.2 260.0,1567.5 262.0,1564.3 264.0,1560.9 266.0,1559.3 268.0,1558.1 270.0,1556.3 272.0,1555.2 274.0,1548.7 276.0,1544.2 278.0,1537.6 280.0,1533.2 282.0,1528.5 284.0,1523.9 286.0,1519.0 288.0,1517.6 290.0,1516.4 292.0,1513.9 294.0,1511.9 296.0,1509.2 298.0,1506.6 300.0,1504.4 302.0,1500.1 304.0,1496.8 306.1,1494.7 308.1,1492.1 310.1,1490.3 312.1,1487.3 314.1,1484.0 316.1,1480.4 318.1,1474.6 320.1,1472.6 322.1,1469.1 324.1,1467.4 326.1,1464.2 328.1,1461.1 330.1,1457.8 332.1,1455.2 334.1,1450.7 336.1,1447.5 338.1,1447.5 340.1,1445.6 342.1,1442.4 344.1,1439.6 346.1,1436.8 348.1,1436.8 350.1,1434.7 352.1,1431.1 354.1,1427.3 356.1,1422.5 358.1,1421.5 360.1,1421.4 362.1,1419.8 364.1,1417.2 366.1,1413.8 368.1,1410.2 370.1,1408.3 372.1,1405.4 374.1,1401.9 376.1,1401.8 378.1,1397.7 380.1,1393.4 382.1,1386.2 384.1,1384.5 386.1,1379.2 388.1,1375.8 390.1,1373.0 392.1,1368.8 394.1,1365.2 396.1,1363.3 398.1,1360.6 400.1,1359.4 402.1,1358.8 404.1,1357.1 406.1,1356.0 408.1,1354.1 410.1,1352.0 412.1,1348.0 414.1,1344.7 416.1,1340.0 418.1,1337.1 420.1,1333.4 422.1,1329.8 424.1,1324.9 426.1,1321.9 428.1,1321.0 430.1,1315.9 432.1,1313.7 434.1,1311.4 436.1,1307.5 438.1,1304.6 440.1,1301.7 442.1,1300.1 444.1,1297.4 446.1,1297.4 448.1,1296.4 450.1,1294.6 452.1,1293.8 454.1,1291.6 456.1,1287.9 458.1,1285.5 460.1,1282.9 462.1,1280.8 464.1,1279.5 466.1,1274.7 468.1,1271.5 470.1,1268.2 472.1,1264.8 474.1,1260.0 476.1,1257.9 478.1,1257.1 480.1,1255.2 482.1,1252.3 484.1,1249.5 486.1,1245.6 488.1,1244.6 490.1,1241.7 492.1,1237.1 494.1,1234.7 496.1,1231.1 498.1,1228.9 500.2,1225.4 502.2,1225.3 504.2,1222.6 506.2,1221.3 508.2,1219.4 510.2,1216.3 512.2,1214.2 514.2,1211.7 516.2,1209.3 518.2,1207.1 520.2,1203.1 522.2,1200.8 524.2,1198.7 526.2,1195.8 528.2,1195.3 530.2,1193.5 532.2,1192.9 534.2,1188.8 536.2,1188.0 538.2,1181.9 540.2,1178.8 542.2,1178.8 544.2,1175.6 546.2,1172.9 548.2,1168.0 550.2,1163.6 552.2,1160.9 554.2,1158.7 556.2,1155.5 558.2,1151.8 560.2,1148.2 562.2,1146.0 564.2,1146.0 566.2,1143.9 568.2,1141.2 570.2,1138.9 572.2,1135.3 574.2,1129.8 576.2,1126.3 578.2,1125.3 580.2,1124.2 582.2,1120.8 584.2,1120.8 586.2,1120.1 588.2,1120.1 590.2,1118.4 592.2,1115.5 594.2,1115.3 596.2,1114.4 598.2,1111.2 600.2,1108.0 602.2,1105.3 604.2,1101.9 606.2,1100.5 608.2,1098.2 610.2,1094.8 612.2,1091.8 614.2,1090.6 616.2,1088.4 618.2,1084.3 620.2,1082.6 622.2,1082.1 624.2,1078.8 626.2,1074.5 628.2,1073.4 630.2,1072.7 632.2,1066.8 634.2,1058.7 636.2,1053.4 638.2,1053.4 640.2,1052.0 642.2,1050.7 644.2,1048.9 646.2,1046.6 648.2,1046.1 650.2,1042.5 652.2,1039.5 654.2,1036.3 656.2,1033.3 658.2,1033.3 660.2,1030.3 662.2,1027.4 664.2,1027.4 666.2,1024.7 668.2,1024.1 670.2,1021.8 672.2,1021.8 674.2,1020.3 676.2,1019.3 678.2,1016.4 680.2,1014.7 682.2,1010.7 684.2,1010.7 686.2,1010.7 688.2,1009.6 690.2,1008.3 692.3,1006.6 694.3,1005.4 696.3,1005.4 698.3,1003.1 700.3,999.9 702.3,998.3 704.3,995.8 706.3,991.9 708.3,990.9 710.3,989.0 712.3,984.6 714.3,984.1 716.3,979.4 718.3,979.1 720.3,974.6 722.3,973.4 724.3,971.3 726.3,969.0 728.3,969.0 730.3,967.2 732.3,965.3 734.3,960.6 736.3,959.2 738.3,954.2 740.3,951.4 742.3,948.1 744.3,946.3 746.3,941.7 748.3,938.9 750.3,936.8 752.3,935.6 754.3,933.0 756.3,932.1 758.3,930.2 760.3,928.1 762.3,925.0 764.3,922.9 766.3,919.9 768.3,917.3 770.3,915.0 772.3,913.0 774.3,910.6 776.3,910.6 778.3,909.9 780.3,906.4 782.3,906.1 784.3,904.7 786.3,903.2 788.3,902.4 790.3,902.4 792.3,901.7 794.3,897.4 796.3,896.3 798.3,893.2 800.3,893.2 802.3,889.8 804.3,888.5 806.3,887.1 808.3,885.1 810.3,883.9 812.3,883.1 814.3,883.1 816.3,882.6 818.3,881.4 820.3,879.8 822.3,876.7 824.3,873.8 826.3,872.0 828.3,864.9 830.3,862.1 832.3,859.6 834.3,859.4 836.3,856.6 838.3,856.1 840.3,855.1 842.3,851.7 844.3,849.2 846.3,845.4 848.3,843.3 850.3,840.5 852.3,838.4 854.3,835.9 856.3,831.5 858.3,830.7 860.3,827.7 862.3,826.1 864.3,823.1 866.3,821.3 868.3,816.6 870.3,814.9 872.3,809.9 874.3,806.6 876.3,804.0 878.3,798.9 880.3,796.6 882.4,793.5 884.4,791.1 886.4,787.9 888.4,784.3 890.4,781.1 892.4,778.6 894.4,777.1 896.4,774.9 898.4,773.5 900.4,772.9 902.4,769.9 904.4,767.3 906.4,765.9 908.4,764.4 910.4,759.9 912.4,758.3 914.4,757.4 916.4,756.6 918.4,754.2 920.4,751.4 922.4,751.4 924.4,746.3 926.4,746.3 928.4,743.7 930.4,741.3 932.4,739.4 934.4,737.7 936.4,734.3 938.4,731.0 940.4,730.0 942.4,729.4 944.4,726.4 946.4,726.4 948.4,722.6 950.4,722.1 952.4,720.7 954.4,720.3 956.4,716.8 958.4,716.1 960.4,714.2 962.4,710.2 964.4,709.3 966.4,707.1 968.4,704.1 970.4,701.6 972.4,697.6 974.4,695.8 976.4,692.3 978.4,687.8 980.4,684.3 982.4,681.8 984.4,677.9 986.4,675.8 988.4,674.8 990.4,674.3 992.4,672.6 994.4,671.2 996.4,668.4 998.4,667.8 1000.4,666.6 1002.4,665.7 1004.4,665.0 1006.4,662.8 1008.4,661.4 1010.4,659.8 1012.4,657.8 1014.4,655.5 1016.4,654.5 1018.4,654.5 1020.4,651.4 1022.4,651.4 1024.4,651.4 1026.4,651.3 1028.4,649.1 1030.4,647.2 1032.4,647.0 1034.4,646.0 1036.4,645.8 1038.4,642.9 1040.4,640.5 1042.4,640.3 1044.4,637.9 1046.4,634.9 1048.4,633.3 1050.4,630.5 1052.4,628.3 1054.4,627.7 1056.4,626.3 1058.4,626.2 1060.4,625.0 1062.4,622.5 1064.4,622.5 1066.4,621.7 1068.4,620.4 1070.4,618.5 1072.4,617.7 1074.4,616.3 1076.5,616.2 1078.5,615.6 1080.5,615.6 1082.5,614.6 1084.5,612.3 1086.5,610.4 1088.5,608.1 1090.5,605.1 1092.5,599.6 1094.5,597.9 1096.5,596.1 1098.5,594.2 1100.5,592.8 1102.5,592.8 1104.5,590.8 1106.5,588.4 1108.5,585.7 1110.5,582.9 1112.5,581.8 1114.5,581.8 1116.5,579.5 1118.5,575.0 1120.5,569.1 1122.5,568.3 1124.5,567.2 1126.5,563.5 1128.5,562.9 1130.5,561.0 1132.5,561.0 1134.5,561.0 1136.5,558.6 1138.5,555.0 1140.5,554.5 1142.5,554.5 1144.5,554.5 1146.5,552.5 1148.5,552.1 1150.5,547.9 1152.5,546.2 1154.5,539.9 1156.5,536.3 1158.5,535.0 1160.5,532.3 1162.5,530.0 1164.5,525.7 1166.5,524.0 1168.5,522.9 1170.5,520.8 1172.5,519.7 1174.5,519.6 1176.5,517.6 1178.5,517.0 1180.5,515.3 1182.5,512.8 1184.5,510.6 1186.5,509.7 1188.5,508.5 1190.5,508.5 1192.5,508.4 1194.5,505.2 1196.5,505.2 1198.5,505.2 1200.5,505.0 1202.5,504.1 1204.5,502.3 1206.5,501.8 1208.5,500.3 1210.5,499.3 1212.5,497.8 1214.5,495.8 1216.5,494.5 1218.5,492.7 1220.5,490.7 1222.5,488.9 1224.5,488.9 1226.5,488.5 1228.5,487.8 1230.5,482.9 1232.5,480.6 1234.5,480.0 1236.5,479.1 1238.5,476.9 1240.5,474.3 1242.5,471.2 1244.5,470.7 1246.5,467.7 1248.5,467.6 1250.5,466.0 1252.5,464.4 1254.5,462.8 1256.5,460.4 1258.5,458.8 1260.5,458.8 1262.5,457.4 1264.5,455.7 1266.5,455.7 1268.6,455.4 1270.6,454.1 1272.6,451.5 1274.6,451.5 1276.6,451.5 1278.6,450.3 1280.6,449.4 1282.6,449.4 1284.6,449.4 1286.6,448.3 1288.6,445.4 1290.6,445.4 1292.6,443.5 1294.6,443.1 1296.6,441.3 1298.6,439.5 1300.6,437.6 1302.6,437.6 1304.6,435.5 1306.6,434.2 1308.6,432.2 1310.6,432.2 1312.6,431.6 1314.6,428.8 1316.6,427.8 1318.6,424.9 1320.6,424.5 1322.6,422.7 1324.6,422.7 1326.6,422.7 1328.6,422.7 1330.6,422.7 1332.6,421.3 1334.6,418.6 1336.6,418.6 1338.6,417.3 1340.6,417.3 1342.6,417.3 1344.6,412.6 1346.6,410.5 1348.6,410.5 1350.6,406.1 1352.6,403.7 1354.6,403.7 1356.6,403.7 1358.6,400.6 1360.6,400.6 1362.6,399.8 1364.6,399.1 1366.6,398.8 1368.6,398.8 1370.6,398.7 1372.6,395.7 1374.6,395.7 1376.6,395.3 1378.6,394.1 1380.6,391.6 1382.6,389.5 1384.6,388.8 1386.6,388.8 1388.6,388.2 1390.6,386.7 1392.6,385.5 1394.6,384.3 1396.6,382.5 1398.6,381.3 1400.6,378.2 1402.6,377.7 1404.6,377.7 1406.6,376.6 1408.6,376.5 1410.6,376.0 1412.6,373.3 1414.6,370.4 1416.6,369.4 1418.6,367.1 1420.6,367.1 1422.6,366.6 1424.6,366.6 1426.6,366.0 1428.6,364.9 1430.6,364.9 1432.6,364.9 1434.6,364.5 1436.6,364.1 1438.6,363.2 1440.6,362.6 1442.6,361.5 1444.6,361.5 1446.6,361.5 1448.6,360.7 1450.6,359.6 1452.6,359.5 1454.6,359.5 1456.6,359.5 1458.6,358.5 1460.7,356.9 1462.7,356.2 1464.7,355.1 1466.7,354.7 1468.7,353.8 1470.7,352.1 1472.7,352.0 1474.7,351.8 1476.7,351.8 1478.7,351.8 1480.7,350.3 1482.7,349.4 1484.7,348.7 1486.7,348.2 1488.7,347.9 1490.7,347.9 1492.7,347.4 1494.7,345.4 1496.7,344.1 1498.7,342.4 1500.7,340.2 1502.7,339.3 1504.7,339.1 1506.7,339.1 1508.7,337.0 1510.7,336.5 1512.7,336.1 1514.7,335.6 1516.7,334.3 1518.7,333.2 1520.7,331.0 1522.7,329.8 1524.7,328.6 1526.7,327.3 1528.7,327.1 1530.7,325.6 1532.7,324.0 1534.7,322.2 1536.7,321.6 1538.7,319.5 1540.7,319.5 1542.7,318.2 1544.7,317.0 1546.7,316.5 1548.7,315.7 1550.7,315.2 1552.7,312.4 1554.7,312.2 1556.7,310.6 1558.7,310.6 1560.7,309.0 1562.7,309.0 1564.7,309.0 1566.7,309.0 1568.7,308.7 1570.7,308.3 1572.7,308.1 1574.7,308.1 1576.7,307.4 1578.7,307.4 1580.7,306.5 1582.7,306.4 1584.7,304.8 1586.7,304.8 1588.7,304.1 1590.7,303.2 1592.7,303.0 1594.7,300.9 1596.7,299.5 1598.7,297.2 1600.7,297.2 1602.7,297.2 1604.7,297.2 1606.7,297.2 1608.7,297.2 1610.7,297.2 1612.7,297.2 1614.7,296.6 1616.7,294.1 1618.7,291.8 1620.7,290.1 1622.7,287.7 1624.7,287.7 1626.7,285.5 1628.7,283.8 1630.7,282.3 1632.7,280.5 1634.7,280.5 1636.7,280.3 1638.7,280.0 1640.7,276.7 1642.7,275.2 1644.7,272.3 1646.7,272.3 1648.7,272.3 1650.8,272.3 1652.8,272.3 1654.8,269.6 1656.8,269.6 1658.8,268.2 1660.8,267.5 1662.8,266.6 1664.8,266.2 1666.8,265.3 1668.8,263.3 1670.8,262.6 1672.8,262.6 1674.8,262.4 1676.8,261.3 1678.8,260.9 1680.8,260.9 1682.8,260.9 1684.8,259.5 1686.8,257.8 1688.8,256.8 1690.8,255.0 1692.8,254.4 1694.8,252.3 1696.8,252.2 1698.8,250.7 1700.8,250.7 1702.8,250.4 1704.8,249.5 1706.8,249.2 1708.8,248.5 1710.8,248.1 1712.8,248.1 1714.8,248.1 1716.8,247.7 1718.8,245.4 1720.8,245.4 1722.8,245.4 1724.8,245.0 1726.8,243.7 1728.8,242.6 1730.8,241.9 1732.8,241.7 1734.8,241.4 1736.8,241.0 1738.8,240.5 1740.8,239.8 1742.8,238.9 1744.8,237.6 1746.8,237.6 1748.8,237.6 1750.8,237.6 1752.8,237.1 1754.8,235.7 1756.8,235.7 1758.8,235.1 1760.8,234.0 1762.8,234.0 1764.8,234.0 1766.8,233.6 1768.8,233.2 1770.8,233.0 1772.8,232.4 1774.8,231.9 1776.8,231.6 1778.8,231.3 1780.8,230.4 1782.8,230.0 1784.8,229.6 1786.8,229.4 1788.8,228.9 1790.8,228.2 1792.8,227.8 1794.8,227.0 1796.8,226.6 1798.8,226.6 1800.8,226.6 1802.8,226.6 1804.8,226.6 1806.8,226.5 1808.8,225.9 1810.8,225.7 1812.8,225.7 1814.8,225.7 1816.8,225.3 1818.8,225.3 1820.8,225.3 1822.8,225.0 1824.8,225.0 1826.8,225.0 1828.8,224.8 1830.8,224.5 1832.8,224.0 1834.8,223.1 1836.8,222.9 1838.8,221.7 1840.8,220.7 1842.8,219.5 1844.9,219.1 1846.9,219.1 1848.9,217.7 1850.9,216.7 1852.9,216.7 1854.9,216.7 1856.9,216.6 1858.9,216.3 1860.9,215.7 1862.9,215.4 1864.9,215.4 1866.9,215.0 1868.9,215.0 1870.9,215.0 1872.9,214.6 1874.9,213.8 1876.9,213.7 1878.9,212.8 1880.9,212.2 1882.9,211.9 1884.9,211.5 1886.9,210.9 1888.9,209.4 1890.9,209.0 1892.9,208.9 1894.9,208.9 1896.9,208.5 1898.9,206.5 1900.9,205.6 1902.9,205.2 1904.9,204.5 1906.9,203.5 1908.9,203.0 1910.9,203.0 1912.9,203.0 1914.9,203.0 1916.9,202.7 1918.9,202.7 1920.9,202.2 1922.9,201.9 1924.9,200.9 1926.9,200.3 1928.9,199.0 1930.9,198.5 1932.9,198.0 1934.9,198.0 1936.9,197.8 1938.9,197.6 1940.9,197.2 1942.9,196.9 1944.9,195.7 1946.9,195.7 1948.9,195.0 1950.9,194.9 1952.9,194.9 1954.9,194.3 1956.9,194.3 1958.9,194.3 1960.9,193.6 1962.9,192.6 1964.9,191.8 1966.9,191.8 1968.9,191.6 1970.9,191.4 1972.9,191.2 1974.9,190.6 1976.9,190.1 1978.9,190.0 1980.9,189.1 1982.9,188.5 1984.9,187.8 1986.9,187.5 1988.9,186.8 1990.9,186.5 1992.9,185.7 1994.9,184.7 1996.9,184.4 1998.9,184.2 2000.9,183.7 2002.9,183.7 2004.9,183.5 2006.9,183.0 2008.9,182.9 2010.9,182.7 2012.9,182.5 2014.9,182.4 2016.9,182.1 2018.9,182.1 2020.9,181.9 2022.9,181.9 2024.9,181.7 2026.9,181.5 2028.9,181.3 2030.9,181.0 2032.9,180.8 2035.0,180.4 2037.0,180.2 2039.0,180.2 2041.0,179.9 2043.0,179.9 2045.0,179.9 2047.0,179.9 2049.0,179.9 2051.0,179.3 2053.0,179.3 2055.0,179.2 2057.0,178.7 2059.0,178.0 2061.0,177.6 2063.0,177.6 2065.0,177.2 2067.0,176.8 2069.0,176.3 2071.0,176.0 2073.0,175.3 2075.0,174.9 2077.0,174.3 2079.0,174.0 2081.0,173.0 2083.0,173.0 2085.0,173.0 2087.0,173.0 2089.0,172.5 2091.0,172.5 2093.0,172.5 2095.0,172.1 2097.0,171.5 2099.0,171.0 2101.0,170.5 2103.0,170.5 2105.0,170.5 2107.0,170.5 2109.0,170.2 2111.0,169.5 2113.0,169.5 2115.0,169.5 2117.0,169.3 2119.0,169.3 2121.0,169.2 2123.0,168.7 2125.0,168.7 2127.0,168.7 2129.0,168.7 2131.0,168.7"/>
<path stroke="#000000" d="M2168,136.8 C2190,134.5 2210,132.2 2228,131.9 L2289,131.8"/>
</g>
<g fill="none" stroke="#000000" stroke-width="2.9" stroke-linecap="round">
<ellipse cx="1795" cy="241" rx="53" ry="71.7" stroke-dasharray="10 13.5"/>
<ellipse cx="840.3" cy="834.6" rx="39.8" ry="31.2" stroke-dasharray="10 13"/>
</g>
<g fill="none" stroke="#ff0000" stroke-width="8" stroke-linecap="round" stroke-dasharray="29 36.5">
<path d="M850.4,56.0 L850.4,1643.0" stroke-dashoffset="13.9"/>
<path d="M1811.0,56.0 L1811.0,1643.0" stroke-dashoffset="13.9"/>
</g>
<g fill="none" stroke-width="8" stroke-linecap="round" stroke-dasharray="29 36.7">
<path stroke="#0000ff" d="M210.0,254.0 L1811.0,254.0"/>
<path stroke="#ff8000" d="M210.0,232.0 L1811.0,232.0"/>
<path stroke="#00a800" d="M210.0,223.0 L1811.0,223.0"/>
<path stroke="#000000" d="M210.0,1338.4 L850.4,1338.4"/>
<path stroke="#0000ff" d="M210.0,871.6 L850.4,871.6"/>
<path stroke="#000000" d="M210.0,851.6 L1811.0,851.6"/>
<path stroke="#ff8000" d="M210.0,836.0 L850.4,836.0"/>
<path stroke="#00a800" d="M212.0,833.8 L850.4,833.8"/>
</g>
<g fill="#000000">
<text transform="translate(210.0,1723.3) scale(1,1.032)" font-size="74.5" text-anchor="middle">0</text>
<text transform="translate(530.2,1723.3) scale(1,1.032)" font-size="74.5" text-anchor="middle">1</text>
<text transform="translate(850.4,1723.3) scale(1,1.032)" font-size="74.5" text-anchor="middle">2</text>
<text transform="translate(1170.6,1723.3) scale(1,1.032)" font-size="74.5" text-anchor="middle">3</text>
<text transform="translate(1490.8,1723.3) scale(1,1.032)" font-size="74.5" text-anchor="middle">4</text>
<text transform="translate(1811.0,1723.3) scale(1,1.032)" font-size="74.5" text-anchor="middle">5</text>
<text transform="translate(2168.5,1723.3) scale(1,1.032)" font-size="74.5" text-anchor="middle">16</text>
<text transform="translate(2365.0,1723.3) scale(1,1.032)" font-size="74.5" text-anchor="middle">24</text>
<text transform="translate(190.0,1666.3) scale(1,1.032)" font-size="74.5" text-anchor="end">0</text>
<text transform="translate(190.0,1439.6) scale(1,1.032)" font-size="74.5" text-anchor="end">15</text>
<text transform="translate(190.0,1212.9) scale(1,1.032)" font-size="74.5" text-anchor="end">30</text>
<text transform="translate(190.0,986.2) scale(1,1.032)" font-size="74.5" text-anchor="end">45</text>
<text transform="translate(190.0,759.5) scale(1,1.032)" font-size="74.5" text-anchor="end">60</text>
<text transform="translate(190.0,532.8) scale(1,1.032)" font-size="74.5" text-anchor="end">75</text>
<text transform="translate(190.0,306.0) scale(1,1.032)" font-size="74.5" text-anchor="end">90</text>
<text transform="translate(190.0,79.3) scale(1,1.032)" font-size="74.5" text-anchor="end">105</text>
<text transform="translate(1287.0,1796.5) scale(1,1.032)" font-size="83" text-anchor="middle">Δρ</text>
<text transform="translate(74.9,806.0) rotate(-90) scale(1,1.032)" font-size="83" text-anchor="middle">P(Δρ)</text>
</g>
<g fill="none" stroke-width="8" stroke-linecap="round">
<path stroke="#000000" d="M291,399 L436,399"/>
<path stroke="#ff8000" d="M291,479 L436,479"/>
<path stroke="#0000ff" d="M291,558.3 L436,558.3"/>
<path stroke="#00a800" d="M291,638 L436,638"/>
</g>
<g fill="#000000">
<text transform="translate(454.3,422.0) scale(1,1.032)" font-size="65" text-anchor="start">Eq.(12)</text>
<text transform="translate(454.3,501.5) scale(1,1.032)" font-size="65" text-anchor="start">Eq.(1)</text>
<text transform="translate(454.3,581.0) scale(1,1.032)" font-size="65" text-anchor="start">Eq.(2)</text>
<text transform="translate(454.3,660.7) scale(1,1.032)" font-size="65" text-anchor="start">Eq.(3)</text>
</g>
<path d="M1851.2,251.0 L1881.2,284.5" stroke="#000000" stroke-width="2.9" stroke-linecap="round" fill="none"/>
<path d="M1896.6,301.6 L1872.2,287.2 L1879.9,283.0 L1884.9,275.8 Z" fill="#000000"/>
<path d="M887.3,862.6 L1840.3,1301.7" stroke="#000000" stroke-width="2.9" stroke-linecap="round" fill="none"/>
<path d="M1861.2,1311.3 L1833.1,1307.7 L1838.5,1300.8 L1840.2,1292.3 Z" fill="#000000"/>
<clipPath id="c1956"><rect x="1956" y="266.5" width="367.5" height="368"/></clipPath>
<g clip-path="url(#c1956)" fill="none" stroke-width="5.6" stroke-linejoin="round">
<path stroke="#ff0000" stroke-width="5" stroke-dasharray="25 22.4" d="M2139.3,634.5 L2139.3,266.5"/>
<polyline stroke="#0000ff" points="1956.1,586.8 2003.9,580.7 2006.1,564.9 2044.0,550.3 2054.4,540.5 2055.3,533.5 2069.3,526.4 2074.9,517.2 2107.3,510.1 2115.7,501.7 2185.9,494.1 2187.3,486.3 2201.4,478.7 2242.1,471.6 2253.4,463.2 2267.4,455.6 2278.7,447.8 2288.5,438.5 2309.6,431.7 2319.4,422.5 2323.6,414.0"/>
<polyline stroke="#ff8000" points="1956.1,509.6 1987.8,502.5 2007.5,494.1 2014.0,478.7 2031.4,470.8 2083.4,463.2 2098.8,454.8 2104.5,446.4 2134.0,439.3 2148.0,431.7 2151.7,415.4 2166.8,399.4 2194.4,392.4 2208.4,376.1 2276.4,360.7 2277.0,352.2 2319.4,344.6 2320.8,336.8 2323.6,333.4"/>
<polyline stroke="#00a800" points="1956.1,353.1 1992.1,345.8 1997.7,337.3 2010.3,330.3 2046.9,322.2 2053.9,313.2 2134.0,305.9 2146.6,298.0 2271.6,282.8 2284.3,273.6 2294.1,268.5 2306.8,266.0 2309.6,263.7"/>
</g>
<rect x="1956" y="266.5" width="367.5" height="368" fill="none" stroke="#000000" stroke-width="1.15" shape-rendering="crispEdges"/>
<g fill="#000000">
<text transform="translate(1952.0,275.7) scale(1,1.085)" font-size="45.6" text-anchor="end">94</text>
<text transform="translate(1952.0,398.4) scale(1,1.085)" font-size="45.6" text-anchor="end">93</text>
<text transform="translate(1952.0,521.0) scale(1,1.085)" font-size="45.6" text-anchor="end">92</text>
<text transform="translate(1952.0,643.7) scale(1,1.085)" font-size="45.6" text-anchor="end">91</text>
<text transform="translate(1961.4,674.8) scale(1,1.085)" font-size="45.6" text-anchor="middle">4.9</text>
<text transform="translate(2144.8,674.8) scale(1,1.085)" font-size="45.6" text-anchor="middle">5.0</text>
<text transform="translate(2327.5,674.8) scale(1,1.085)" font-size="45.6" text-anchor="middle">5.1</text>
</g>
<clipPath id="c1905"><rect x="1905.5" y="1135.5" width="368" height="368.5"/></clipPath>
<g clip-path="url(#c1905)" fill="none" stroke-width="5.6" stroke-linejoin="round">
<path stroke="#ff0000" stroke-width="5" stroke-dasharray="25 22.4" d="M2089.6,1504.0 L2089.6,1135.5"/>
<polyline stroke="#0000ff" points="2250.9,1504.0 2253.3,1455.6 2256.3,1433.2 2257.8,1386.9 2260.7,1357.0 2265.2,1333.1 2268.2,1315.1 2271.2,1267.3 2273.6,1246.4"/>
<polyline stroke="#ff8000" points="2045.6,1504.0 2050.7,1455.6 2054.6,1433.2 2069.5,1421.2 2083.0,1407.8 2083.0,1385.4 2096.4,1363.0 2103.9,1339.0 2109.2,1291.2 2110.4,1246.4 2116.4,1221.0 2134.3,1195.6 2143.3,1152.3 2143.3,1135.9"/>
<polyline stroke="#00a800" points="2047.7,1504.0 2056.1,1481.0 2059.0,1455.6 2062.6,1409.3 2077.6,1386.9 2080.0,1339.0 2081.5,1315.1 2087.4,1297.2 2096.4,1265.8 2108.4,1221.0 2121.8,1195.6 2127.8,1168.7 2129.3,1152.3 2129.3,1135.9"/>
</g>
<rect x="1905.5" y="1135.5" width="368" height="368.5" fill="none" stroke="#000000" stroke-width="1.15" shape-rendering="crispEdges"/>
<g fill="#000000">
<text transform="translate(1904.0,1143.3) scale(1,1.085)" font-size="45.6" text-anchor="end">54</text>
<text transform="translate(1904.0,1511.3) scale(1,1.085)" font-size="45.6" text-anchor="end">53</text>
<text transform="translate(1905.5,1545.2) scale(1,1.085)" font-size="45.6" text-anchor="middle">1.9</text>
<text transform="translate(2089.4,1545.2) scale(1,1.085)" font-size="45.6" text-anchor="middle">2.0</text>
<text transform="translate(2270.5,1545.2) scale(1,1.085)" font-size="45.6" text-anchor="middle">2.1</text>
</g>
</svg>
</body></html>
